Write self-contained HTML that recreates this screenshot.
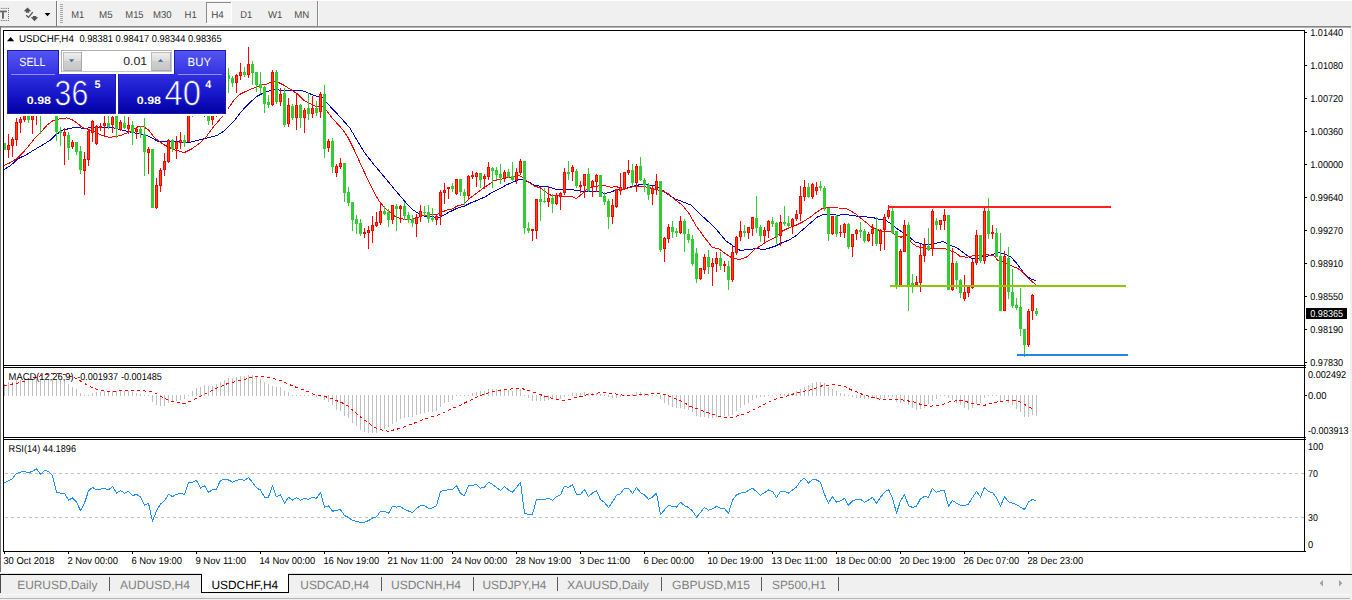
<!DOCTYPE html>
<html lang="en"><head><meta charset="utf-8"><title>USDCHF,H4</title>
<style>html,body{margin:0;padding:0;background:#f0f0f0;overflow:hidden}svg{display:block}text{font-family:"Liberation Sans",sans-serif;white-space:pre;text-rendering:geometricPrecision}</style>
</head><body>
<svg width="1352" height="600" viewBox="0 0 1352 600">
<defs>
<linearGradient id="gTab" x1="0" y1="0" x2="0" y2="1"><stop offset="0" stop-color="#5656f2"/><stop offset="1" stop-color="#3232e2"/></linearGradient>
<linearGradient id="gPrice" x1="0" y1="0" x2="0" y2="1"><stop offset="0" stop-color="#3030e0"/><stop offset="0.55" stop-color="#1414c8"/><stop offset="1" stop-color="#0000a0"/></linearGradient>
<linearGradient id="gBtn" x1="0" y1="0" x2="0" y2="1"><stop offset="0" stop-color="#f0f0f0"/><stop offset="0.45" stop-color="#dcdcdc"/><stop offset="0.5" stop-color="#cfcfcf"/><stop offset="1" stop-color="#c6c6c6"/></linearGradient>
<linearGradient id="gPriceU" gradientUnits="userSpaceOnUse" x1="0" y1="74" x2="0" y2="114"><stop offset="0" stop-color="#3030e0"/><stop offset="0.55" stop-color="#1414c8"/><stop offset="1" stop-color="#0000a0"/></linearGradient>
<clipPath id="clipMain"><rect x="4" y="31" width="1300" height="334"/></clipPath>
</defs>
<g shape-rendering="crispEdges">
<rect x="0" y="0" width="1352" height="600" fill="#f0f0f0"/>
<rect x="0" y="0" width="1352" height="1" fill="#ffffff"/>
<rect x="0" y="26" width="1351" height="1" fill="#868686"/>
<rect x="0" y="27" width="1351" height="1" fill="#b4b4b4"/>
<rect x="1" y="28" width="1349" height="545" fill="#ffffff"/>
<rect x="0" y="26" width="1" height="546" fill="#727272"/>
<rect x="0" y="573" width="1350" height="1" fill="#e3e3e3"/>
<rect x="0" y="574" width="1352" height="1" fill="#000000"/>
<rect x="0" y="594" width="1350" height="1" fill="#fbfbfb"/>
<rect x="0" y="598" width="1350" height="1" fill="#b4b4b4"/>
</g>
<g fill="#666666">
<rect x="0" y="10.6" width="6.8" height="1.7"/><rect x="2" y="12" width="1.9" height="6.7"/>
<rect x="0.8" y="7.9" width="1" height="1" fill="#707070"/><rect x="0.8" y="20" width="1" height="1" fill="#707070"/>
<rect x="2.6" y="7.9" width="1" height="1" fill="#707070"/><rect x="2.6" y="20" width="1" height="1" fill="#707070"/>
<rect x="4.4" y="7.9" width="1" height="1" fill="#707070"/><rect x="4.4" y="20" width="1" height="1" fill="#707070"/>
<rect x="6.2" y="7.9" width="1" height="1" fill="#707070"/><rect x="6.2" y="20" width="1" height="1" fill="#707070"/>
<rect x="8.0" y="7.9" width="1" height="1" fill="#707070"/><rect x="8.0" y="20" width="1" height="1" fill="#707070"/>
<rect x="8" y="9.9" width="1" height="1" fill="#707070"/>
<rect x="8" y="11.9" width="1" height="1" fill="#707070"/>
<rect x="8" y="14.0" width="1" height="1" fill="#707070"/>
<rect x="8" y="16.0" width="1" height="1" fill="#707070"/>
<rect x="8" y="18.0" width="1" height="1" fill="#707070"/>
</g>
<g>
</g>
<g fill="#555555">
<path d="M27.5 7.6 L31.3 11.3 L29.2 11.3 L29.2 12.8 L25.8 12.8 L25.8 11.3 L23.7 11.3 Z"/>
<path d="M34.5 21.2 L38.3 17.3 L36.2 17.3 L36.2 16 L32.8 16 L32.8 17.3 L30.7 17.3 Z"/>
<path d="M26.2 15.2 L28.5 17.4 L32.8 12.2" fill="none" stroke="#555555" stroke-width="1.3"/>
</g>
<path d="M44.6 13 L50.4 13 L47.5 16.2 Z" fill="#000"/>
<g shape-rendering="crispEdges">
<rect x="56" y="1" width="1" height="25" fill="#7a7a7a"/>
<rect x="57" y="1" width="1" height="25" fill="#fafafa"/>
<rect x="60" y="4" width="3" height="1" fill="#a8a8a8"/>
<rect x="60" y="6" width="3" height="1" fill="#a8a8a8"/>
<rect x="60" y="8" width="3" height="1" fill="#a8a8a8"/>
<rect x="60" y="10" width="3" height="1" fill="#a8a8a8"/>
<rect x="60" y="12" width="3" height="1" fill="#a8a8a8"/>
<rect x="60" y="14" width="3" height="1" fill="#a8a8a8"/>
<rect x="60" y="16" width="3" height="1" fill="#a8a8a8"/>
<rect x="60" y="18" width="3" height="1" fill="#a8a8a8"/>
<rect x="60" y="20" width="3" height="1" fill="#a8a8a8"/>
<rect x="60" y="22" width="3" height="1" fill="#a8a8a8"/>
<rect x="317" y="1" width="1" height="25" fill="#8a8a8a"/>
<rect x="318" y="1" width="1" height="25" fill="#fafafa"/>
<rect x="206" y="2" width="26" height="22" fill="#f7f7f7"/>
<rect x="206" y="2" width="26" height="1" fill="#8c8c8c"/>
<rect x="206" y="2" width="1" height="22" fill="#8c8c8c"/>
<rect x="231" y="2" width="1" height="22" fill="#ffffff"/>
<rect x="206" y="23" width="26" height="1" fill="#ffffff"/>
</g>
<text x="71.3" y="18" font-size="10" fill="#4a4a4a" textLength="13" lengthAdjust="spacingAndGlyphs">M1</text>
<text x="99" y="18" font-size="10" fill="#4a4a4a" textLength="13.6" lengthAdjust="spacingAndGlyphs">M5</text>
<text x="125.3" y="18" font-size="10" fill="#4a4a4a" textLength="18.3" lengthAdjust="spacingAndGlyphs">M15</text>
<text x="153" y="18" font-size="10" fill="#4a4a4a" textLength="18.6" lengthAdjust="spacingAndGlyphs">M30</text>
<text x="184.5" y="18" font-size="10" fill="#4a4a4a" textLength="12.2" lengthAdjust="spacingAndGlyphs">H1</text>
<text x="211.2" y="18" font-size="10" fill="#4a4a4a" textLength="12.6" lengthAdjust="spacingAndGlyphs">H4</text>
<text x="240.3" y="18" font-size="10" fill="#4a4a4a" textLength="12" lengthAdjust="spacingAndGlyphs">D1</text>
<text x="268" y="18" font-size="10" fill="#4a4a4a" textLength="14.4" lengthAdjust="spacingAndGlyphs">W1</text>
<text x="294.2" y="18" font-size="10" fill="#4a4a4a" textLength="15" lengthAdjust="spacingAndGlyphs">MN</text>
<g shape-rendering="crispEdges">
<rect x="3" y="30" width="1" height="522" fill="#000000"/>
<rect x="1304" y="30" width="1" height="522" fill="#000000"/>
<rect x="3" y="30" width="1302" height="1" fill="#000000"/>
<rect x="3" y="365" width="1303" height="1" fill="#000000"/>
<rect x="3" y="367" width="1303" height="1" fill="#000000"/>
<rect x="3" y="437" width="1303" height="1" fill="#000000"/>
<rect x="3" y="439" width="1303" height="1" fill="#000000"/>
<rect x="3" y="551" width="1303" height="1" fill="#000000"/>
<rect x="4" y="366" width="1300" height="1" fill="#ffffff"/>
<rect x="4" y="438" width="1300" height="1" fill="#ffffff"/>
<rect x="1305" y="32" width="2" height="1" fill="#000000"/>
<rect x="1305" y="65" width="2" height="1" fill="#000000"/>
<rect x="1305" y="98" width="2" height="1" fill="#000000"/>
<rect x="1305" y="131" width="2" height="1" fill="#000000"/>
<rect x="1305" y="164" width="2" height="1" fill="#000000"/>
<rect x="1305" y="197" width="2" height="1" fill="#000000"/>
<rect x="1305" y="230" width="2" height="1" fill="#000000"/>
<rect x="1305" y="263" width="2" height="1" fill="#000000"/>
<rect x="1305" y="296" width="2" height="1" fill="#000000"/>
<rect x="1305" y="329" width="2" height="1" fill="#000000"/>
<rect x="1305" y="362" width="2" height="1" fill="#000000"/>
<rect x="1305" y="395" width="2" height="1" fill="#000000"/>
<rect x="4" y="552" width="1" height="2" fill="#000000"/>
<rect x="68" y="552" width="1" height="2" fill="#000000"/>
<rect x="132" y="552" width="1" height="2" fill="#000000"/>
<rect x="196" y="552" width="1" height="2" fill="#000000"/>
<rect x="260" y="552" width="1" height="2" fill="#000000"/>
<rect x="324" y="552" width="1" height="2" fill="#000000"/>
<rect x="388" y="552" width="1" height="2" fill="#000000"/>
<rect x="452" y="552" width="1" height="2" fill="#000000"/>
<rect x="516" y="552" width="1" height="2" fill="#000000"/>
<rect x="580" y="552" width="1" height="2" fill="#000000"/>
<rect x="644" y="552" width="1" height="2" fill="#000000"/>
<rect x="708" y="552" width="1" height="2" fill="#000000"/>
<rect x="772" y="552" width="1" height="2" fill="#000000"/>
<rect x="836" y="552" width="1" height="2" fill="#000000"/>
<rect x="900" y="552" width="1" height="2" fill="#000000"/>
<rect x="964" y="552" width="1" height="2" fill="#000000"/>
<rect x="1028" y="552" width="1" height="2" fill="#000000"/>
</g>
<line x1="5" y1="473.5" x2="1304" y2="473.5" stroke="#c0c0c0" stroke-width="1" stroke-dasharray="3,3" shape-rendering="crispEdges"/>
<line x1="5" y1="517.5" x2="1304" y2="517.5" stroke="#c0c0c0" stroke-width="1" stroke-dasharray="3,3" shape-rendering="crispEdges"/>
<g clip-path="url(#clipMain)">
<polyline points="3.9,169.5 10.5,165.7 17.5,159.0 26.3,154.7 35.0,149.4 43.8,144.2 50.8,139.8 56.0,134.5 63.0,130.1 70.1,128.4 77.1,127.2 84.1,128.6 91.1,127.5 98.1,127.2 105.1,127.2 112.0,127.5 120.8,129.6 129.5,131.9 138.3,133.6 147.0,135.4 152.3,138.0 157.5,141.2 164.5,141.9 173.3,141.2 182.1,142.0 185.6,142.9 190.8,142.0 199.6,139.8 208.3,137.7 217.1,135.4 224.1,131.0 229.0,126.1 234.3,120.8 239.5,113.8 244.8,107.7 250.0,102.4 257.0,96.3 264.0,92.8 269.3,91.0 274.5,89.8 283.3,90.2 292.1,90.7 302.6,90.7 309.6,93.7 316.6,96.3 323.6,97.7 326.1,102.2 334.0,110.4 342.8,120.0 349.8,127.9 355.0,136.7 363.8,151.5 372.5,162.9 381.3,173.4 386.5,179.6 395.5,190.6 402.5,198.5 406.1,202.9 413.1,209.9 418.3,213.4 423.6,216.0 432.3,216.9 439.3,217.4 444.6,214.8 449.8,211.7 450.0,211.8 457.0,208.3 464.0,206.2 471.0,202.7 478.0,200.1 485.0,196.9 492.0,192.5 499.0,189.0 506.0,185.2 513.0,182.0 518.3,179.9 523.6,179.9 528.8,182.0 534.1,185.2 541.1,186.4 548.1,186.9 555.1,189.0 562.1,189.6 564.0,189.6 572.8,189.9 581.5,191.1 590.3,191.1 599.0,191.1 604.3,193.4 609.5,192.5 616.5,189.9 623.5,189.0 630.5,186.9 637.6,185.2 642.8,184.1 649.8,185.2 655.1,185.5 662.1,189.9 668.3,194.6 675.3,199.0 682.3,201.6 691.0,205.1 699.8,213.9 708.5,221.8 717.3,230.5 726.1,241.0 733.1,245.9 740.1,250.3 747.1,249.8 755.8,248.6 764.6,249.4 768.0,248.5 775.0,246.2 782.0,242.7 789.0,240.1 796.0,235.7 803.0,229.5 810.0,223.4 817.0,217.3 822.3,214.7 827.5,214.3 838.1,215.2 845.1,214.3 852.1,215.5 859.1,216.4 866.1,216.9 873.1,217.6 880.0,219.7 880.1,219.4 885.3,220.0 890.5,223.5 895.8,227.9 902.8,232.6 909.8,237.5 915.0,241.9 922.0,244.0 929.0,244.5 936.0,243.3 943.0,241.6 950.1,245.1 957.1,248.0 964.1,253.3 971.1,258.2 976.3,259.4 983.5,256.2 987.0,256.2 994.0,253.9 999.3,252.7 1004.5,253.9 1011.5,257.4 1016.8,263.6 1022.0,270.6 1027.3,276.7 1032.5,279.7 1036.0,280.7" fill="none" stroke="#0000cd" stroke-width="1" stroke-linejoin="round" shape-rendering="crispEdges"/>
<polyline points="3.9,165.7 10.5,162.5 17.5,158.2 22.8,152.9 28.0,146.8 35.0,138.0 40.3,132.8 47.3,124.9 52.5,121.0 59.5,118.8 66.5,117.9 71.8,119.6 77.1,123.1 82.3,127.5 87.6,129.3 94.6,131.9 101.6,135.4 108.6,137.1 112.0,137.1 120.8,135.4 129.5,131.9 138.3,126.6 143.5,126.6 148.8,130.1 154.0,137.1 159.3,141.5 164.5,145.0 173.3,149.4 182.1,152.0 185.6,152.0 190.8,149.4 199.6,143.3 206.6,136.3 213.6,126.6 222.3,116.7 228.1,108.6 234.3,99.8 239.5,94.5 248.3,90.2 257.0,86.7 262.3,84.9 267.5,84.0 271.9,81.4 278.0,82.3 283.3,84.9 290.3,89.3 297.3,93.7 304.3,100.7 311.3,104.2 316.6,106.8 321.8,105.9 326.1,110.4 327.1,111.2 332.3,118.3 337.5,123.9 342.8,129.7 348.0,137.5 353.3,148.0 358.5,159.4 363.8,170.8 364.0,171.4 369.3,182.8 374.5,193.3 379.8,202.0 385.0,208.2 390.3,212.5 395.5,216.9 400.8,218.7 406.1,219.5 411.3,219.5 416.6,217.8 421.8,216.0 428.8,214.6 437.6,214.3 442.8,211.7 448.1,209.6 450.0,210.1 457.0,206.2 464.0,203.9 469.3,198.7 476.3,193.4 483.3,188.2 488.5,184.7 493.8,180.6 500.8,179.4 506.0,177.7 513.0,177.1 518.3,175.0 523.6,177.7 528.8,182.4 534.1,185.9 541.1,188.2 546.3,192.5 551.6,195.7 558.6,195.7 562.1,196.9 564.0,196.9 571.0,196.0 576.3,198.7 581.5,194.3 586.8,189.0 593.8,186.4 599.0,185.9 606.0,185.9 611.3,187.3 616.5,186.4 621.8,189.9 627.0,188.2 634.1,186.4 641.1,186.4 648.1,187.3 655.1,189.4 662.1,190.8 668.3,193.8 675.3,199.9 682.3,205.1 689.3,213.9 696.3,226.2 703.3,235.8 712.0,247.2 719.0,248.9 726.1,254.2 733.1,258.6 740.1,259.4 747.1,256.8 754.1,249.8 761.1,245.4 768.0,240.9 775.0,237.4 782.0,231.3 789.0,227.8 796.0,225.2 803.0,221.7 810.0,217.3 817.0,212.0 822.3,208.5 827.5,207.7 832.8,207.1 838.1,208.0 845.1,208.2 850.3,210.6 855.6,213.8 860.8,218.2 866.1,222.5 871.3,226.9 876.6,229.5 881.8,230.9 885.3,231.9 890.5,231.9 895.8,234.9 901.0,237.2 906.3,234.9 911.5,242.8 916.8,246.3 922.0,247.7 929.0,248.9 936.0,248.0 943.0,248.0 950.1,250.7 955.3,252.4 960.6,256.8 967.6,257.1 972.8,255.9 979.8,255.9 984.6,254.8 987.0,254.8 994.0,255.7 997.5,260.1 1002.8,261.8 1009.8,265.3 1016.8,267.9 1022.0,271.4 1027.3,277.6 1032.5,281.9 1036.0,284.9" fill="none" stroke="#ff0000" stroke-width="1" stroke-linejoin="round" shape-rendering="crispEdges"/>
<g shape-rendering="crispEdges">
<rect x="4" y="143" width="1" height="7" fill="#32cd32"/>
<rect x="3" y="143" width="3" height="7" fill="#32cd32"/>
<rect x="8" y="134" width="1" height="24" fill="#ff0000"/>
<rect x="7" y="145" width="3" height="5" fill="#ff0000"/>
<rect x="8" y="146" width="1" height="3" fill="#ff4500"/>
<rect x="12" y="137" width="1" height="20" fill="#ff0000"/>
<rect x="11" y="139" width="3" height="7" fill="#ff0000"/>
<rect x="12" y="140" width="1" height="5" fill="#ff4500"/>
<rect x="16" y="118" width="1" height="28" fill="#ff0000"/>
<rect x="15" y="122" width="3" height="18" fill="#ff0000"/>
<rect x="16" y="123" width="1" height="16" fill="#ff4500"/>
<rect x="20" y="117" width="1" height="16" fill="#ff0000"/>
<rect x="19" y="119" width="3" height="4" fill="#ff0000"/>
<rect x="20" y="120" width="1" height="2" fill="#ff4500"/>
<rect x="24" y="105" width="1" height="17" fill="#ff0000"/>
<rect x="23" y="108" width="3" height="12" fill="#ff0000"/>
<rect x="24" y="109" width="1" height="10" fill="#ff4500"/>
<rect x="28" y="100" width="1" height="23" fill="#32cd32"/>
<rect x="27" y="104" width="3" height="16" fill="#32cd32"/>
<rect x="32" y="100" width="1" height="34" fill="#ff0000"/>
<rect x="31" y="104" width="3" height="16" fill="#ff0000"/>
<rect x="32" y="105" width="1" height="14" fill="#ff4500"/>
<rect x="36" y="95" width="1" height="30" fill="#ff0000"/>
<rect x="35" y="98" width="3" height="12" fill="#ff0000"/>
<rect x="36" y="99" width="1" height="10" fill="#ff4500"/>
<rect x="40" y="90" width="1" height="44" fill="#32cd32"/>
<rect x="39" y="95" width="3" height="13" fill="#32cd32"/>
<rect x="44" y="85" width="1" height="20" fill="#32cd32"/>
<rect x="43" y="88" width="3" height="12" fill="#32cd32"/>
<rect x="48" y="80" width="1" height="20" fill="#ff0000"/>
<rect x="47" y="85" width="3" height="10" fill="#ff0000"/>
<rect x="48" y="86" width="1" height="8" fill="#ff4500"/>
<rect x="52" y="85" width="1" height="25" fill="#32cd32"/>
<rect x="51" y="90" width="3" height="15" fill="#32cd32"/>
<rect x="56" y="95" width="1" height="46" fill="#32cd32"/>
<rect x="55" y="100" width="3" height="32" fill="#32cd32"/>
<rect x="60" y="127" width="1" height="19" fill="#32cd32"/>
<rect x="59" y="131" width="3" height="2" fill="#32cd32"/>
<rect x="64" y="128" width="1" height="37" fill="#ff0000"/>
<rect x="63" y="132" width="3" height="4" fill="#ff0000"/>
<rect x="64" y="133" width="1" height="2" fill="#ff4500"/>
<rect x="68" y="132" width="1" height="28" fill="#32cd32"/>
<rect x="67" y="135" width="3" height="13" fill="#32cd32"/>
<rect x="72" y="140" width="1" height="9" fill="#ff0000"/>
<rect x="71" y="142" width="3" height="5" fill="#ff0000"/>
<rect x="72" y="143" width="1" height="3" fill="#ff4500"/>
<rect x="76" y="142" width="1" height="13" fill="#32cd32"/>
<rect x="75" y="142" width="3" height="10" fill="#32cd32"/>
<rect x="80" y="146" width="1" height="28" fill="#32cd32"/>
<rect x="79" y="151" width="3" height="19" fill="#32cd32"/>
<rect x="84" y="152" width="1" height="43" fill="#ff0000"/>
<rect x="83" y="159" width="3" height="12" fill="#ff0000"/>
<rect x="84" y="160" width="1" height="10" fill="#ff4500"/>
<rect x="88" y="129" width="1" height="37" fill="#ff0000"/>
<rect x="87" y="131" width="3" height="29" fill="#ff0000"/>
<rect x="88" y="132" width="1" height="27" fill="#ff4500"/>
<rect x="92" y="120" width="1" height="22" fill="#ff0000"/>
<rect x="91" y="121" width="3" height="12" fill="#ff0000"/>
<rect x="92" y="122" width="1" height="10" fill="#ff4500"/>
<rect x="96" y="125" width="1" height="20" fill="#ff0000"/>
<rect x="95" y="126" width="3" height="18" fill="#ff0000"/>
<rect x="96" y="127" width="1" height="16" fill="#ff4500"/>
<rect x="100" y="123" width="1" height="8" fill="#ff0000"/>
<rect x="99" y="126" width="3" height="2" fill="#ff0000"/>
<rect x="104" y="116" width="1" height="20" fill="#ff0000"/>
<rect x="103" y="123" width="3" height="3" fill="#ff0000"/>
<rect x="104" y="124" width="1" height="1" fill="#ff4500"/>
<rect x="108" y="116" width="1" height="13" fill="#32cd32"/>
<rect x="107" y="123" width="3" height="4" fill="#32cd32"/>
<rect x="112" y="112" width="1" height="21" fill="#ff0000"/>
<rect x="111" y="117" width="3" height="8" fill="#ff0000"/>
<rect x="112" y="118" width="1" height="6" fill="#ff4500"/>
<rect x="116" y="105" width="1" height="33" fill="#32cd32"/>
<rect x="115" y="108" width="3" height="21" fill="#32cd32"/>
<rect x="120" y="120" width="1" height="11" fill="#ff0000"/>
<rect x="119" y="122" width="3" height="8" fill="#ff0000"/>
<rect x="120" y="123" width="1" height="6" fill="#ff4500"/>
<rect x="124" y="116" width="1" height="13" fill="#32cd32"/>
<rect x="123" y="123" width="3" height="5" fill="#32cd32"/>
<rect x="128" y="117" width="1" height="17" fill="#ff0000"/>
<rect x="127" y="125" width="3" height="4" fill="#ff0000"/>
<rect x="128" y="126" width="1" height="2" fill="#ff4500"/>
<rect x="132" y="121" width="1" height="24" fill="#32cd32"/>
<rect x="131" y="125" width="3" height="8" fill="#32cd32"/>
<rect x="136" y="128" width="1" height="11" fill="#ff0000"/>
<rect x="135" y="129" width="3" height="3" fill="#ff0000"/>
<rect x="136" y="130" width="1" height="1" fill="#ff4500"/>
<rect x="140" y="126" width="1" height="12" fill="#32cd32"/>
<rect x="139" y="129" width="3" height="5" fill="#32cd32"/>
<rect x="144" y="118" width="1" height="58" fill="#32cd32"/>
<rect x="143" y="134" width="3" height="18" fill="#32cd32"/>
<rect x="148" y="147" width="1" height="27" fill="#ff0000"/>
<rect x="147" y="149" width="3" height="4" fill="#ff0000"/>
<rect x="148" y="150" width="1" height="2" fill="#ff4500"/>
<rect x="152" y="149" width="1" height="59" fill="#32cd32"/>
<rect x="151" y="149" width="3" height="59" fill="#32cd32"/>
<rect x="156" y="178" width="1" height="31" fill="#ff0000"/>
<rect x="155" y="185" width="3" height="23" fill="#ff0000"/>
<rect x="156" y="186" width="1" height="21" fill="#ff4500"/>
<rect x="160" y="168" width="1" height="24" fill="#ff0000"/>
<rect x="159" y="170" width="3" height="16" fill="#ff0000"/>
<rect x="160" y="171" width="1" height="14" fill="#ff4500"/>
<rect x="164" y="153" width="1" height="23" fill="#ff0000"/>
<rect x="163" y="161" width="3" height="9" fill="#ff0000"/>
<rect x="164" y="162" width="1" height="7" fill="#ff4500"/>
<rect x="168" y="139" width="1" height="24" fill="#ff0000"/>
<rect x="167" y="140" width="3" height="22" fill="#ff0000"/>
<rect x="168" y="141" width="1" height="20" fill="#ff4500"/>
<rect x="172" y="139" width="1" height="13" fill="#32cd32"/>
<rect x="171" y="140" width="3" height="9" fill="#32cd32"/>
<rect x="176" y="136" width="1" height="23" fill="#ff0000"/>
<rect x="175" y="142" width="3" height="7" fill="#ff0000"/>
<rect x="176" y="143" width="1" height="5" fill="#ff4500"/>
<rect x="180" y="132" width="1" height="17" fill="#ff0000"/>
<rect x="179" y="140" width="3" height="3" fill="#ff0000"/>
<rect x="180" y="141" width="1" height="1" fill="#ff4500"/>
<rect x="184" y="135" width="1" height="12" fill="#32cd32"/>
<rect x="183" y="140" width="3" height="3" fill="#32cd32"/>
<rect x="188" y="100" width="1" height="42" fill="#ff0000"/>
<rect x="187" y="105" width="3" height="37" fill="#ff0000"/>
<rect x="188" y="106" width="1" height="35" fill="#ff4500"/>
<rect x="192" y="100" width="1" height="17" fill="#32cd32"/>
<rect x="191" y="102" width="3" height="10" fill="#32cd32"/>
<rect x="196" y="95" width="1" height="15" fill="#32cd32"/>
<rect x="195" y="98" width="3" height="10" fill="#32cd32"/>
<rect x="200" y="92" width="1" height="16" fill="#ff0000"/>
<rect x="199" y="95" width="3" height="9" fill="#ff0000"/>
<rect x="200" y="96" width="1" height="7" fill="#ff4500"/>
<rect x="204" y="94" width="1" height="23" fill="#ff0000"/>
<rect x="203" y="98" width="3" height="10" fill="#ff0000"/>
<rect x="204" y="99" width="1" height="8" fill="#ff4500"/>
<rect x="208" y="100" width="1" height="25" fill="#32cd32"/>
<rect x="207" y="104" width="3" height="17" fill="#32cd32"/>
<rect x="212" y="100" width="1" height="25" fill="#ff0000"/>
<rect x="211" y="104" width="3" height="16" fill="#ff0000"/>
<rect x="212" y="105" width="1" height="14" fill="#ff4500"/>
<rect x="216" y="96" width="1" height="21" fill="#ff0000"/>
<rect x="215" y="100" width="3" height="12" fill="#ff0000"/>
<rect x="216" y="101" width="1" height="10" fill="#ff4500"/>
<rect x="220" y="85" width="1" height="20" fill="#32cd32"/>
<rect x="219" y="90" width="3" height="10" fill="#32cd32"/>
<rect x="224" y="75" width="1" height="25" fill="#32cd32"/>
<rect x="223" y="80" width="3" height="15" fill="#32cd32"/>
<rect x="228" y="68" width="1" height="25" fill="#32cd32"/>
<rect x="227" y="75" width="3" height="4" fill="#32cd32"/>
<rect x="232" y="76" width="1" height="11" fill="#32cd32"/>
<rect x="231" y="78" width="3" height="5" fill="#32cd32"/>
<rect x="236" y="74" width="1" height="19" fill="#ff0000"/>
<rect x="235" y="75" width="3" height="8" fill="#ff0000"/>
<rect x="236" y="76" width="1" height="6" fill="#ff4500"/>
<rect x="240" y="63" width="1" height="17" fill="#ff0000"/>
<rect x="239" y="72" width="3" height="4" fill="#ff0000"/>
<rect x="240" y="73" width="1" height="2" fill="#ff4500"/>
<rect x="244" y="67" width="1" height="10" fill="#32cd32"/>
<rect x="243" y="72" width="3" height="3" fill="#32cd32"/>
<rect x="248" y="47" width="1" height="31" fill="#ff0000"/>
<rect x="247" y="64" width="3" height="11" fill="#ff0000"/>
<rect x="248" y="65" width="1" height="9" fill="#ff4500"/>
<rect x="252" y="61" width="1" height="24" fill="#32cd32"/>
<rect x="251" y="64" width="3" height="9" fill="#32cd32"/>
<rect x="256" y="72" width="1" height="20" fill="#32cd32"/>
<rect x="255" y="72" width="3" height="13" fill="#32cd32"/>
<rect x="260" y="72" width="1" height="22" fill="#32cd32"/>
<rect x="259" y="84" width="3" height="4" fill="#32cd32"/>
<rect x="264" y="86" width="1" height="27" fill="#32cd32"/>
<rect x="263" y="87" width="3" height="17" fill="#32cd32"/>
<rect x="268" y="95" width="1" height="13" fill="#32cd32"/>
<rect x="267" y="102" width="3" height="3" fill="#32cd32"/>
<rect x="272" y="70" width="1" height="36" fill="#ff0000"/>
<rect x="271" y="72" width="3" height="33" fill="#ff0000"/>
<rect x="272" y="73" width="1" height="31" fill="#ff4500"/>
<rect x="276" y="70" width="1" height="34" fill="#32cd32"/>
<rect x="275" y="72" width="3" height="30" fill="#32cd32"/>
<rect x="280" y="88" width="1" height="18" fill="#ff0000"/>
<rect x="279" y="94" width="3" height="8" fill="#ff0000"/>
<rect x="280" y="95" width="1" height="6" fill="#ff4500"/>
<rect x="284" y="88" width="1" height="39" fill="#32cd32"/>
<rect x="283" y="93" width="3" height="32" fill="#32cd32"/>
<rect x="288" y="98" width="1" height="29" fill="#ff0000"/>
<rect x="287" y="105" width="3" height="19" fill="#ff0000"/>
<rect x="288" y="106" width="1" height="17" fill="#ff4500"/>
<rect x="292" y="104" width="1" height="16" fill="#32cd32"/>
<rect x="291" y="106" width="3" height="12" fill="#32cd32"/>
<rect x="296" y="93" width="1" height="37" fill="#ff0000"/>
<rect x="295" y="105" width="3" height="13" fill="#ff0000"/>
<rect x="296" y="106" width="1" height="11" fill="#ff4500"/>
<rect x="300" y="104" width="1" height="24" fill="#32cd32"/>
<rect x="299" y="105" width="3" height="13" fill="#32cd32"/>
<rect x="304" y="108" width="1" height="25" fill="#ff0000"/>
<rect x="303" y="110" width="3" height="8" fill="#ff0000"/>
<rect x="304" y="111" width="1" height="6" fill="#ff4500"/>
<rect x="308" y="93" width="1" height="27" fill="#32cd32"/>
<rect x="307" y="108" width="3" height="6" fill="#32cd32"/>
<rect x="312" y="96" width="1" height="22" fill="#ff0000"/>
<rect x="311" y="108" width="3" height="6" fill="#ff0000"/>
<rect x="312" y="109" width="1" height="4" fill="#ff4500"/>
<rect x="316" y="101" width="1" height="15" fill="#32cd32"/>
<rect x="315" y="108" width="3" height="5" fill="#32cd32"/>
<rect x="320" y="92" width="1" height="26" fill="#ff0000"/>
<rect x="319" y="94" width="3" height="18" fill="#ff0000"/>
<rect x="320" y="95" width="1" height="16" fill="#ff4500"/>
<rect x="324" y="85" width="1" height="73" fill="#32cd32"/>
<rect x="323" y="94" width="3" height="55" fill="#32cd32"/>
<rect x="328" y="139" width="1" height="13" fill="#ff0000"/>
<rect x="327" y="141" width="3" height="7" fill="#ff0000"/>
<rect x="328" y="142" width="1" height="5" fill="#ff4500"/>
<rect x="332" y="138" width="1" height="35" fill="#32cd32"/>
<rect x="331" y="141" width="3" height="26" fill="#32cd32"/>
<rect x="336" y="164" width="1" height="13" fill="#ff0000"/>
<rect x="335" y="166" width="3" height="7" fill="#ff0000"/>
<rect x="336" y="167" width="1" height="5" fill="#ff4500"/>
<rect x="340" y="158" width="1" height="11" fill="#ff0000"/>
<rect x="339" y="163" width="3" height="4" fill="#ff0000"/>
<rect x="340" y="164" width="1" height="2" fill="#ff4500"/>
<rect x="344" y="163" width="1" height="39" fill="#32cd32"/>
<rect x="343" y="163" width="3" height="30" fill="#32cd32"/>
<rect x="348" y="187" width="1" height="19" fill="#32cd32"/>
<rect x="347" y="192" width="3" height="11" fill="#32cd32"/>
<rect x="352" y="202" width="1" height="29" fill="#32cd32"/>
<rect x="351" y="202" width="3" height="18" fill="#32cd32"/>
<rect x="356" y="215" width="1" height="19" fill="#32cd32"/>
<rect x="355" y="219" width="3" height="5" fill="#32cd32"/>
<rect x="360" y="219" width="1" height="17" fill="#32cd32"/>
<rect x="359" y="223" width="3" height="11" fill="#32cd32"/>
<rect x="364" y="228" width="1" height="10" fill="#ff0000"/>
<rect x="363" y="232" width="3" height="2" fill="#ff0000"/>
<rect x="368" y="226" width="1" height="23" fill="#ff0000"/>
<rect x="367" y="230" width="3" height="3" fill="#ff0000"/>
<rect x="368" y="231" width="1" height="1" fill="#ff4500"/>
<rect x="372" y="216" width="1" height="27" fill="#ff0000"/>
<rect x="371" y="225" width="3" height="6" fill="#ff0000"/>
<rect x="372" y="226" width="1" height="4" fill="#ff4500"/>
<rect x="376" y="212" width="1" height="15" fill="#ff0000"/>
<rect x="375" y="222" width="3" height="4" fill="#ff0000"/>
<rect x="376" y="223" width="1" height="2" fill="#ff4500"/>
<rect x="380" y="202" width="1" height="23" fill="#ff0000"/>
<rect x="379" y="211" width="3" height="12" fill="#ff0000"/>
<rect x="380" y="212" width="1" height="10" fill="#ff4500"/>
<rect x="384" y="206" width="1" height="9" fill="#32cd32"/>
<rect x="383" y="211" width="3" height="3" fill="#32cd32"/>
<rect x="388" y="209" width="1" height="18" fill="#32cd32"/>
<rect x="387" y="212" width="3" height="8" fill="#32cd32"/>
<rect x="392" y="205" width="1" height="19" fill="#ff0000"/>
<rect x="391" y="205" width="3" height="15" fill="#ff0000"/>
<rect x="392" y="206" width="1" height="13" fill="#ff4500"/>
<rect x="396" y="204" width="1" height="27" fill="#32cd32"/>
<rect x="395" y="206" width="3" height="3" fill="#32cd32"/>
<rect x="400" y="205" width="1" height="18" fill="#ff0000"/>
<rect x="399" y="206" width="3" height="3" fill="#ff0000"/>
<rect x="400" y="207" width="1" height="1" fill="#ff4500"/>
<rect x="404" y="202" width="1" height="18" fill="#32cd32"/>
<rect x="403" y="206" width="3" height="10" fill="#32cd32"/>
<rect x="408" y="212" width="1" height="11" fill="#32cd32"/>
<rect x="407" y="215" width="3" height="5" fill="#32cd32"/>
<rect x="412" y="215" width="1" height="12" fill="#32cd32"/>
<rect x="411" y="219" width="3" height="4" fill="#32cd32"/>
<rect x="416" y="214" width="1" height="23" fill="#ff0000"/>
<rect x="415" y="217" width="3" height="7" fill="#ff0000"/>
<rect x="416" y="218" width="1" height="5" fill="#ff4500"/>
<rect x="420" y="205" width="1" height="17" fill="#ff0000"/>
<rect x="419" y="211" width="3" height="6" fill="#ff0000"/>
<rect x="420" y="212" width="1" height="4" fill="#ff4500"/>
<rect x="424" y="206" width="1" height="10" fill="#32cd32"/>
<rect x="423" y="212" width="3" height="1" fill="#32cd32"/>
<rect x="428" y="205" width="1" height="18" fill="#32cd32"/>
<rect x="427" y="212" width="3" height="7" fill="#32cd32"/>
<rect x="432" y="208" width="1" height="14" fill="#32cd32"/>
<rect x="431" y="218" width="3" height="2" fill="#32cd32"/>
<rect x="436" y="214" width="1" height="11" fill="#ff0000"/>
<rect x="435" y="216" width="3" height="4" fill="#ff0000"/>
<rect x="436" y="217" width="1" height="2" fill="#ff4500"/>
<rect x="440" y="190" width="1" height="35" fill="#ff0000"/>
<rect x="439" y="192" width="3" height="24" fill="#ff0000"/>
<rect x="440" y="193" width="1" height="22" fill="#ff4500"/>
<rect x="444" y="183" width="1" height="21" fill="#ff0000"/>
<rect x="443" y="190" width="3" height="3" fill="#ff0000"/>
<rect x="444" y="191" width="1" height="1" fill="#ff4500"/>
<rect x="448" y="187" width="1" height="12" fill="#ff0000"/>
<rect x="447" y="187" width="3" height="2" fill="#ff0000"/>
<rect x="452" y="183" width="1" height="9" fill="#32cd32"/>
<rect x="451" y="186" width="3" height="3" fill="#32cd32"/>
<rect x="456" y="179" width="1" height="16" fill="#ff0000"/>
<rect x="455" y="179" width="3" height="15" fill="#ff0000"/>
<rect x="456" y="180" width="1" height="13" fill="#ff4500"/>
<rect x="460" y="179" width="1" height="17" fill="#32cd32"/>
<rect x="459" y="179" width="3" height="13" fill="#32cd32"/>
<rect x="464" y="189" width="1" height="17" fill="#32cd32"/>
<rect x="463" y="192" width="3" height="4" fill="#32cd32"/>
<rect x="468" y="175" width="1" height="24" fill="#ff0000"/>
<rect x="467" y="176" width="3" height="20" fill="#ff0000"/>
<rect x="468" y="177" width="1" height="18" fill="#ff4500"/>
<rect x="472" y="171" width="1" height="8" fill="#ff0000"/>
<rect x="471" y="175" width="3" height="2" fill="#ff0000"/>
<rect x="476" y="172" width="1" height="15" fill="#ff0000"/>
<rect x="475" y="173" width="3" height="4" fill="#ff0000"/>
<rect x="476" y="174" width="1" height="2" fill="#ff4500"/>
<rect x="480" y="173" width="1" height="15" fill="#32cd32"/>
<rect x="479" y="173" width="3" height="7" fill="#32cd32"/>
<rect x="484" y="174" width="1" height="15" fill="#ff0000"/>
<rect x="483" y="176" width="3" height="3" fill="#ff0000"/>
<rect x="484" y="177" width="1" height="1" fill="#ff4500"/>
<rect x="488" y="162" width="1" height="18" fill="#ff0000"/>
<rect x="487" y="167" width="3" height="10" fill="#ff0000"/>
<rect x="488" y="168" width="1" height="8" fill="#ff4500"/>
<rect x="492" y="167" width="1" height="21" fill="#32cd32"/>
<rect x="491" y="168" width="3" height="3" fill="#32cd32"/>
<rect x="496" y="167" width="1" height="13" fill="#32cd32"/>
<rect x="495" y="170" width="3" height="5" fill="#32cd32"/>
<rect x="500" y="164" width="1" height="20" fill="#32cd32"/>
<rect x="499" y="174" width="3" height="4" fill="#32cd32"/>
<rect x="504" y="170" width="1" height="12" fill="#ff0000"/>
<rect x="503" y="172" width="3" height="7" fill="#ff0000"/>
<rect x="504" y="173" width="1" height="5" fill="#ff4500"/>
<rect x="508" y="169" width="1" height="9" fill="#32cd32"/>
<rect x="507" y="172" width="3" height="5" fill="#32cd32"/>
<rect x="512" y="162" width="1" height="19" fill="#32cd32"/>
<rect x="511" y="176" width="3" height="4" fill="#32cd32"/>
<rect x="516" y="168" width="1" height="16" fill="#ff0000"/>
<rect x="515" y="172" width="3" height="8" fill="#ff0000"/>
<rect x="516" y="173" width="1" height="6" fill="#ff4500"/>
<rect x="520" y="159" width="1" height="16" fill="#ff0000"/>
<rect x="519" y="161" width="3" height="12" fill="#ff0000"/>
<rect x="520" y="162" width="1" height="10" fill="#ff4500"/>
<rect x="524" y="161" width="1" height="73" fill="#32cd32"/>
<rect x="523" y="161" width="3" height="67" fill="#32cd32"/>
<rect x="528" y="222" width="1" height="11" fill="#32cd32"/>
<rect x="527" y="228" width="3" height="3" fill="#32cd32"/>
<rect x="532" y="229" width="1" height="12" fill="#ff0000"/>
<rect x="531" y="229" width="3" height="2" fill="#ff0000"/>
<rect x="536" y="199" width="1" height="40" fill="#ff0000"/>
<rect x="535" y="199" width="3" height="32" fill="#ff0000"/>
<rect x="536" y="200" width="1" height="30" fill="#ff4500"/>
<rect x="540" y="189" width="1" height="32" fill="#32cd32"/>
<rect x="539" y="199" width="3" height="3" fill="#32cd32"/>
<rect x="544" y="188" width="1" height="15" fill="#32cd32"/>
<rect x="543" y="201" width="3" height="1" fill="#32cd32"/>
<rect x="548" y="186" width="1" height="21" fill="#ff0000"/>
<rect x="547" y="198" width="3" height="4" fill="#ff0000"/>
<rect x="548" y="199" width="1" height="2" fill="#ff4500"/>
<rect x="552" y="194" width="1" height="19" fill="#32cd32"/>
<rect x="551" y="198" width="3" height="6" fill="#32cd32"/>
<rect x="556" y="193" width="1" height="12" fill="#ff0000"/>
<rect x="555" y="195" width="3" height="9" fill="#ff0000"/>
<rect x="556" y="196" width="1" height="7" fill="#ff4500"/>
<rect x="560" y="192" width="1" height="18" fill="#ff0000"/>
<rect x="559" y="193" width="3" height="3" fill="#ff0000"/>
<rect x="560" y="194" width="1" height="1" fill="#ff4500"/>
<rect x="564" y="168" width="1" height="27" fill="#ff0000"/>
<rect x="563" y="172" width="3" height="21" fill="#ff0000"/>
<rect x="564" y="173" width="1" height="19" fill="#ff4500"/>
<rect x="568" y="161" width="1" height="19" fill="#32cd32"/>
<rect x="567" y="172" width="3" height="2" fill="#32cd32"/>
<rect x="572" y="165" width="1" height="16" fill="#ff0000"/>
<rect x="571" y="167" width="3" height="5" fill="#ff0000"/>
<rect x="572" y="168" width="1" height="3" fill="#ff4500"/>
<rect x="576" y="169" width="1" height="19" fill="#32cd32"/>
<rect x="575" y="171" width="3" height="15" fill="#32cd32"/>
<rect x="580" y="181" width="1" height="12" fill="#ff0000"/>
<rect x="579" y="185" width="3" height="2" fill="#ff0000"/>
<rect x="584" y="174" width="1" height="24" fill="#ff0000"/>
<rect x="583" y="174" width="3" height="12" fill="#ff0000"/>
<rect x="584" y="175" width="1" height="10" fill="#ff4500"/>
<rect x="588" y="168" width="1" height="24" fill="#32cd32"/>
<rect x="587" y="174" width="3" height="17" fill="#32cd32"/>
<rect x="592" y="180" width="1" height="17" fill="#ff0000"/>
<rect x="591" y="181" width="3" height="6" fill="#ff0000"/>
<rect x="592" y="182" width="1" height="4" fill="#ff4500"/>
<rect x="596" y="174" width="1" height="18" fill="#ff0000"/>
<rect x="595" y="175" width="3" height="7" fill="#ff0000"/>
<rect x="596" y="176" width="1" height="5" fill="#ff4500"/>
<rect x="600" y="175" width="1" height="22" fill="#32cd32"/>
<rect x="599" y="175" width="3" height="22" fill="#32cd32"/>
<rect x="604" y="192" width="1" height="13" fill="#32cd32"/>
<rect x="603" y="196" width="3" height="6" fill="#32cd32"/>
<rect x="608" y="199" width="1" height="30" fill="#32cd32"/>
<rect x="607" y="201" width="3" height="16" fill="#32cd32"/>
<rect x="612" y="199" width="1" height="25" fill="#ff0000"/>
<rect x="611" y="205" width="3" height="12" fill="#ff0000"/>
<rect x="612" y="206" width="1" height="10" fill="#ff4500"/>
<rect x="616" y="189" width="1" height="19" fill="#ff0000"/>
<rect x="615" y="189" width="3" height="18" fill="#ff0000"/>
<rect x="616" y="190" width="1" height="16" fill="#ff4500"/>
<rect x="620" y="173" width="1" height="22" fill="#ff0000"/>
<rect x="619" y="187" width="3" height="4" fill="#ff0000"/>
<rect x="620" y="188" width="1" height="2" fill="#ff4500"/>
<rect x="624" y="172" width="1" height="17" fill="#ff0000"/>
<rect x="623" y="172" width="3" height="17" fill="#ff0000"/>
<rect x="624" y="173" width="1" height="15" fill="#ff4500"/>
<rect x="628" y="160" width="1" height="15" fill="#ff0000"/>
<rect x="627" y="170" width="3" height="3" fill="#ff0000"/>
<rect x="628" y="171" width="1" height="1" fill="#ff4500"/>
<rect x="632" y="164" width="1" height="22" fill="#32cd32"/>
<rect x="631" y="170" width="3" height="13" fill="#32cd32"/>
<rect x="636" y="164" width="1" height="28" fill="#ff0000"/>
<rect x="635" y="166" width="3" height="17" fill="#ff0000"/>
<rect x="636" y="167" width="1" height="15" fill="#ff4500"/>
<rect x="640" y="157" width="1" height="24" fill="#32cd32"/>
<rect x="639" y="166" width="3" height="14" fill="#32cd32"/>
<rect x="644" y="178" width="1" height="14" fill="#32cd32"/>
<rect x="643" y="180" width="3" height="5" fill="#32cd32"/>
<rect x="648" y="183" width="1" height="17" fill="#32cd32"/>
<rect x="647" y="185" width="3" height="10" fill="#32cd32"/>
<rect x="652" y="186" width="1" height="19" fill="#ff0000"/>
<rect x="651" y="188" width="3" height="6" fill="#ff0000"/>
<rect x="652" y="189" width="1" height="4" fill="#ff4500"/>
<rect x="656" y="174" width="1" height="21" fill="#ff0000"/>
<rect x="655" y="181" width="3" height="8" fill="#ff0000"/>
<rect x="656" y="182" width="1" height="6" fill="#ff4500"/>
<rect x="660" y="181" width="1" height="71" fill="#32cd32"/>
<rect x="659" y="181" width="3" height="69" fill="#32cd32"/>
<rect x="664" y="237" width="1" height="25" fill="#ff0000"/>
<rect x="663" y="238" width="3" height="11" fill="#ff0000"/>
<rect x="664" y="239" width="1" height="9" fill="#ff4500"/>
<rect x="668" y="224" width="1" height="19" fill="#ff0000"/>
<rect x="667" y="227" width="3" height="12" fill="#ff0000"/>
<rect x="668" y="228" width="1" height="10" fill="#ff4500"/>
<rect x="672" y="221" width="1" height="17" fill="#32cd32"/>
<rect x="671" y="227" width="3" height="5" fill="#32cd32"/>
<rect x="676" y="228" width="1" height="9" fill="#32cd32"/>
<rect x="675" y="231" width="3" height="2" fill="#32cd32"/>
<rect x="680" y="216" width="1" height="18" fill="#ff0000"/>
<rect x="679" y="221" width="3" height="12" fill="#ff0000"/>
<rect x="680" y="222" width="1" height="10" fill="#ff4500"/>
<rect x="684" y="219" width="1" height="33" fill="#32cd32"/>
<rect x="683" y="221" width="3" height="13" fill="#32cd32"/>
<rect x="688" y="229" width="1" height="14" fill="#32cd32"/>
<rect x="687" y="234" width="3" height="6" fill="#32cd32"/>
<rect x="692" y="235" width="1" height="31" fill="#32cd32"/>
<rect x="691" y="239" width="3" height="25" fill="#32cd32"/>
<rect x="696" y="248" width="1" height="35" fill="#32cd32"/>
<rect x="695" y="253" width="3" height="26" fill="#32cd32"/>
<rect x="700" y="268" width="1" height="12" fill="#ff0000"/>
<rect x="699" y="268" width="3" height="11" fill="#ff0000"/>
<rect x="700" y="269" width="1" height="9" fill="#ff4500"/>
<rect x="704" y="254" width="1" height="20" fill="#ff0000"/>
<rect x="703" y="257" width="3" height="13" fill="#ff0000"/>
<rect x="704" y="258" width="1" height="11" fill="#ff4500"/>
<rect x="708" y="250" width="1" height="24" fill="#32cd32"/>
<rect x="707" y="257" width="3" height="10" fill="#32cd32"/>
<rect x="712" y="258" width="1" height="28" fill="#ff0000"/>
<rect x="711" y="263" width="3" height="4" fill="#ff0000"/>
<rect x="712" y="264" width="1" height="2" fill="#ff4500"/>
<rect x="716" y="252" width="1" height="20" fill="#ff0000"/>
<rect x="715" y="258" width="3" height="6" fill="#ff0000"/>
<rect x="716" y="259" width="1" height="4" fill="#ff4500"/>
<rect x="720" y="252" width="1" height="18" fill="#32cd32"/>
<rect x="719" y="258" width="3" height="8" fill="#32cd32"/>
<rect x="724" y="261" width="1" height="11" fill="#ff0000"/>
<rect x="723" y="264" width="3" height="2" fill="#ff0000"/>
<rect x="728" y="261" width="1" height="29" fill="#32cd32"/>
<rect x="727" y="266" width="3" height="14" fill="#32cd32"/>
<rect x="732" y="246" width="1" height="36" fill="#ff0000"/>
<rect x="731" y="252" width="3" height="28" fill="#ff0000"/>
<rect x="732" y="253" width="1" height="26" fill="#ff4500"/>
<rect x="736" y="236" width="1" height="19" fill="#ff0000"/>
<rect x="735" y="237" width="3" height="16" fill="#ff0000"/>
<rect x="736" y="238" width="1" height="14" fill="#ff4500"/>
<rect x="740" y="221" width="1" height="20" fill="#ff0000"/>
<rect x="739" y="231" width="3" height="6" fill="#ff0000"/>
<rect x="740" y="232" width="1" height="4" fill="#ff4500"/>
<rect x="744" y="225" width="1" height="12" fill="#32cd32"/>
<rect x="743" y="231" width="3" height="2" fill="#32cd32"/>
<rect x="748" y="227" width="1" height="12" fill="#ff0000"/>
<rect x="747" y="227" width="3" height="6" fill="#ff0000"/>
<rect x="748" y="228" width="1" height="4" fill="#ff4500"/>
<rect x="752" y="217" width="1" height="19" fill="#ff0000"/>
<rect x="751" y="217" width="3" height="12" fill="#ff0000"/>
<rect x="752" y="218" width="1" height="10" fill="#ff4500"/>
<rect x="756" y="196" width="1" height="37" fill="#32cd32"/>
<rect x="755" y="218" width="3" height="10" fill="#32cd32"/>
<rect x="760" y="225" width="1" height="17" fill="#32cd32"/>
<rect x="759" y="227" width="3" height="9" fill="#32cd32"/>
<rect x="764" y="227" width="1" height="17" fill="#ff0000"/>
<rect x="763" y="230" width="3" height="6" fill="#ff0000"/>
<rect x="764" y="231" width="1" height="4" fill="#ff4500"/>
<rect x="768" y="220" width="1" height="18" fill="#ff0000"/>
<rect x="767" y="221" width="3" height="10" fill="#ff0000"/>
<rect x="768" y="222" width="1" height="8" fill="#ff4500"/>
<rect x="772" y="217" width="1" height="10" fill="#32cd32"/>
<rect x="771" y="221" width="3" height="3" fill="#32cd32"/>
<rect x="776" y="222" width="1" height="22" fill="#32cd32"/>
<rect x="775" y="223" width="3" height="14" fill="#32cd32"/>
<rect x="780" y="215" width="1" height="31" fill="#ff0000"/>
<rect x="779" y="222" width="3" height="14" fill="#ff0000"/>
<rect x="780" y="223" width="1" height="12" fill="#ff4500"/>
<rect x="784" y="206" width="1" height="20" fill="#32cd32"/>
<rect x="783" y="222" width="3" height="2" fill="#32cd32"/>
<rect x="788" y="216" width="1" height="12" fill="#32cd32"/>
<rect x="787" y="223" width="3" height="3" fill="#32cd32"/>
<rect x="792" y="218" width="1" height="16" fill="#ff0000"/>
<rect x="791" y="219" width="3" height="8" fill="#ff0000"/>
<rect x="792" y="220" width="1" height="6" fill="#ff4500"/>
<rect x="796" y="210" width="1" height="11" fill="#ff0000"/>
<rect x="795" y="214" width="3" height="5" fill="#ff0000"/>
<rect x="796" y="215" width="1" height="3" fill="#ff4500"/>
<rect x="800" y="186" width="1" height="35" fill="#ff0000"/>
<rect x="799" y="196" width="3" height="18" fill="#ff0000"/>
<rect x="800" y="197" width="1" height="16" fill="#ff4500"/>
<rect x="804" y="180" width="1" height="21" fill="#ff0000"/>
<rect x="803" y="187" width="3" height="10" fill="#ff0000"/>
<rect x="804" y="188" width="1" height="8" fill="#ff4500"/>
<rect x="808" y="183" width="1" height="15" fill="#32cd32"/>
<rect x="807" y="187" width="3" height="10" fill="#32cd32"/>
<rect x="812" y="183" width="1" height="16" fill="#ff0000"/>
<rect x="811" y="184" width="3" height="13" fill="#ff0000"/>
<rect x="812" y="185" width="1" height="11" fill="#ff4500"/>
<rect x="816" y="182" width="1" height="13" fill="#ff0000"/>
<rect x="815" y="187" width="3" height="4" fill="#ff0000"/>
<rect x="816" y="188" width="1" height="2" fill="#ff4500"/>
<rect x="820" y="181" width="1" height="10" fill="#32cd32"/>
<rect x="819" y="186" width="3" height="2" fill="#32cd32"/>
<rect x="824" y="186" width="1" height="25" fill="#32cd32"/>
<rect x="823" y="188" width="3" height="20" fill="#32cd32"/>
<rect x="828" y="208" width="1" height="33" fill="#32cd32"/>
<rect x="827" y="208" width="3" height="26" fill="#32cd32"/>
<rect x="832" y="216" width="1" height="19" fill="#ff0000"/>
<rect x="831" y="216" width="3" height="18" fill="#ff0000"/>
<rect x="832" y="217" width="1" height="16" fill="#ff4500"/>
<rect x="836" y="215" width="1" height="22" fill="#32cd32"/>
<rect x="835" y="216" width="3" height="18" fill="#32cd32"/>
<rect x="840" y="225" width="1" height="12" fill="#ff0000"/>
<rect x="839" y="232" width="3" height="1" fill="#ff0000"/>
<rect x="844" y="223" width="1" height="15" fill="#ff0000"/>
<rect x="843" y="224" width="3" height="9" fill="#ff0000"/>
<rect x="844" y="225" width="1" height="7" fill="#ff4500"/>
<rect x="848" y="223" width="1" height="26" fill="#32cd32"/>
<rect x="847" y="224" width="3" height="23" fill="#32cd32"/>
<rect x="852" y="234" width="1" height="23" fill="#ff0000"/>
<rect x="851" y="234" width="3" height="13" fill="#ff0000"/>
<rect x="852" y="235" width="1" height="11" fill="#ff4500"/>
<rect x="856" y="229" width="1" height="11" fill="#ff0000"/>
<rect x="855" y="230" width="3" height="4" fill="#ff0000"/>
<rect x="856" y="231" width="1" height="2" fill="#ff4500"/>
<rect x="860" y="222" width="1" height="16" fill="#32cd32"/>
<rect x="859" y="230" width="3" height="2" fill="#32cd32"/>
<rect x="864" y="229" width="1" height="14" fill="#32cd32"/>
<rect x="863" y="231" width="3" height="10" fill="#32cd32"/>
<rect x="868" y="232" width="1" height="10" fill="#ff0000"/>
<rect x="867" y="234" width="3" height="7" fill="#ff0000"/>
<rect x="868" y="235" width="1" height="5" fill="#ff4500"/>
<rect x="872" y="224" width="1" height="22" fill="#ff0000"/>
<rect x="871" y="229" width="3" height="5" fill="#ff0000"/>
<rect x="872" y="230" width="1" height="3" fill="#ff4500"/>
<rect x="876" y="217" width="1" height="29" fill="#32cd32"/>
<rect x="875" y="229" width="3" height="15" fill="#32cd32"/>
<rect x="880" y="229" width="1" height="22" fill="#ff0000"/>
<rect x="879" y="230" width="3" height="14" fill="#ff0000"/>
<rect x="880" y="231" width="1" height="12" fill="#ff4500"/>
<rect x="884" y="214" width="1" height="36" fill="#ff0000"/>
<rect x="883" y="217" width="3" height="13" fill="#ff0000"/>
<rect x="884" y="218" width="1" height="11" fill="#ff4500"/>
<rect x="888" y="205" width="1" height="14" fill="#ff0000"/>
<rect x="887" y="210" width="3" height="7" fill="#ff0000"/>
<rect x="888" y="211" width="1" height="5" fill="#ff4500"/>
<rect x="892" y="208" width="1" height="26" fill="#32cd32"/>
<rect x="891" y="211" width="3" height="22" fill="#32cd32"/>
<rect x="896" y="231" width="1" height="58" fill="#32cd32"/>
<rect x="895" y="231" width="3" height="56" fill="#32cd32"/>
<rect x="900" y="249" width="1" height="38" fill="#ff0000"/>
<rect x="899" y="251" width="3" height="35" fill="#ff0000"/>
<rect x="900" y="252" width="1" height="33" fill="#ff4500"/>
<rect x="904" y="220" width="1" height="32" fill="#ff0000"/>
<rect x="903" y="225" width="3" height="27" fill="#ff0000"/>
<rect x="904" y="226" width="1" height="25" fill="#ff4500"/>
<rect x="908" y="222" width="1" height="89" fill="#32cd32"/>
<rect x="907" y="225" width="3" height="61" fill="#32cd32"/>
<rect x="912" y="274" width="1" height="19" fill="#32cd32"/>
<rect x="911" y="283" width="3" height="3" fill="#32cd32"/>
<rect x="916" y="276" width="1" height="11" fill="#ff0000"/>
<rect x="915" y="282" width="3" height="3" fill="#ff0000"/>
<rect x="916" y="283" width="1" height="1" fill="#ff4500"/>
<rect x="920" y="244" width="1" height="48" fill="#ff0000"/>
<rect x="919" y="255" width="3" height="28" fill="#ff0000"/>
<rect x="920" y="256" width="1" height="26" fill="#ff4500"/>
<rect x="924" y="238" width="1" height="24" fill="#ff0000"/>
<rect x="923" y="245" width="3" height="11" fill="#ff0000"/>
<rect x="924" y="246" width="1" height="9" fill="#ff4500"/>
<rect x="928" y="228" width="1" height="23" fill="#32cd32"/>
<rect x="927" y="246" width="3" height="4" fill="#32cd32"/>
<rect x="932" y="209" width="1" height="47" fill="#ff0000"/>
<rect x="931" y="211" width="3" height="38" fill="#ff0000"/>
<rect x="932" y="212" width="1" height="36" fill="#ff4500"/>
<rect x="936" y="218" width="1" height="12" fill="#32cd32"/>
<rect x="935" y="221" width="3" height="4" fill="#32cd32"/>
<rect x="940" y="220" width="1" height="10" fill="#ff0000"/>
<rect x="939" y="220" width="3" height="5" fill="#ff0000"/>
<rect x="940" y="221" width="1" height="3" fill="#ff4500"/>
<rect x="944" y="209" width="1" height="21" fill="#ff0000"/>
<rect x="943" y="215" width="3" height="6" fill="#ff0000"/>
<rect x="944" y="216" width="1" height="4" fill="#ff4500"/>
<rect x="948" y="215" width="1" height="75" fill="#32cd32"/>
<rect x="947" y="215" width="3" height="75" fill="#32cd32"/>
<rect x="952" y="248" width="1" height="43" fill="#ff0000"/>
<rect x="951" y="263" width="3" height="27" fill="#ff0000"/>
<rect x="952" y="264" width="1" height="25" fill="#ff4500"/>
<rect x="956" y="261" width="1" height="28" fill="#32cd32"/>
<rect x="955" y="263" width="3" height="17" fill="#32cd32"/>
<rect x="960" y="279" width="1" height="19" fill="#32cd32"/>
<rect x="959" y="280" width="3" height="13" fill="#32cd32"/>
<rect x="964" y="275" width="1" height="26" fill="#ff0000"/>
<rect x="963" y="292" width="3" height="7" fill="#ff0000"/>
<rect x="964" y="293" width="1" height="5" fill="#ff4500"/>
<rect x="968" y="287" width="1" height="10" fill="#ff0000"/>
<rect x="967" y="287" width="3" height="6" fill="#ff0000"/>
<rect x="968" y="288" width="1" height="4" fill="#ff4500"/>
<rect x="972" y="259" width="1" height="30" fill="#ff0000"/>
<rect x="971" y="262" width="3" height="26" fill="#ff0000"/>
<rect x="972" y="263" width="1" height="24" fill="#ff4500"/>
<rect x="976" y="230" width="1" height="35" fill="#ff0000"/>
<rect x="975" y="235" width="3" height="28" fill="#ff0000"/>
<rect x="976" y="236" width="1" height="26" fill="#ff4500"/>
<rect x="980" y="235" width="1" height="28" fill="#32cd32"/>
<rect x="979" y="235" width="3" height="26" fill="#32cd32"/>
<rect x="984" y="208" width="1" height="56" fill="#ff0000"/>
<rect x="983" y="211" width="3" height="50" fill="#ff0000"/>
<rect x="984" y="212" width="1" height="48" fill="#ff4500"/>
<rect x="988" y="198" width="1" height="41" fill="#32cd32"/>
<rect x="987" y="211" width="3" height="23" fill="#32cd32"/>
<rect x="992" y="225" width="1" height="14" fill="#ff0000"/>
<rect x="991" y="232" width="3" height="2" fill="#ff0000"/>
<rect x="996" y="228" width="1" height="29" fill="#32cd32"/>
<rect x="995" y="233" width="3" height="24" fill="#32cd32"/>
<rect x="1000" y="233" width="1" height="78" fill="#32cd32"/>
<rect x="999" y="256" width="3" height="55" fill="#32cd32"/>
<rect x="1004" y="251" width="1" height="60" fill="#ff0000"/>
<rect x="1003" y="256" width="3" height="55" fill="#ff0000"/>
<rect x="1004" y="257" width="1" height="53" fill="#ff4500"/>
<rect x="1008" y="247" width="1" height="52" fill="#32cd32"/>
<rect x="1007" y="258" width="3" height="34" fill="#32cd32"/>
<rect x="1012" y="269" width="1" height="39" fill="#32cd32"/>
<rect x="1011" y="292" width="3" height="14" fill="#32cd32"/>
<rect x="1016" y="298" width="1" height="12" fill="#32cd32"/>
<rect x="1015" y="305" width="3" height="3" fill="#32cd32"/>
<rect x="1020" y="288" width="1" height="48" fill="#32cd32"/>
<rect x="1019" y="307" width="3" height="22" fill="#32cd32"/>
<rect x="1024" y="329" width="1" height="28" fill="#32cd32"/>
<rect x="1023" y="329" width="3" height="16" fill="#32cd32"/>
<rect x="1028" y="309" width="1" height="38" fill="#ff0000"/>
<rect x="1027" y="311" width="3" height="34" fill="#ff0000"/>
<rect x="1028" y="312" width="1" height="32" fill="#ff4500"/>
<rect x="1032" y="294" width="1" height="26" fill="#ff0000"/>
<rect x="1031" y="295" width="3" height="16" fill="#ff0000"/>
<rect x="1032" y="296" width="1" height="14" fill="#ff4500"/>
<rect x="1036" y="308" width="1" height="8" fill="#32cd32"/>
<rect x="1035" y="311" width="3" height="3" fill="#32cd32"/>
<rect x="888" y="206" width="223" height="2" fill="#ff2020"/>
<rect x="890" y="285" width="236" height="2" fill="#8cc600"/>
<rect x="1017" y="354" width="111" height="2" fill="#2286e2"/>
</g>
</g>
<g shape-rendering="crispEdges">
<rect x="4" y="384" width="1" height="12" fill="#c0c0c0"/>
<rect x="8" y="382" width="1" height="14" fill="#c0c0c0"/>
<rect x="12" y="382" width="1" height="14" fill="#c0c0c0"/>
<rect x="16" y="380" width="1" height="16" fill="#c0c0c0"/>
<rect x="20" y="380" width="1" height="16" fill="#c0c0c0"/>
<rect x="24" y="379" width="1" height="17" fill="#c0c0c0"/>
<rect x="28" y="379" width="1" height="17" fill="#c0c0c0"/>
<rect x="32" y="379" width="1" height="17" fill="#c0c0c0"/>
<rect x="36" y="379" width="1" height="17" fill="#c0c0c0"/>
<rect x="40" y="379" width="1" height="17" fill="#c0c0c0"/>
<rect x="44" y="379" width="1" height="17" fill="#c0c0c0"/>
<rect x="48" y="379" width="1" height="17" fill="#c0c0c0"/>
<rect x="52" y="379" width="1" height="17" fill="#c0c0c0"/>
<rect x="56" y="379" width="1" height="17" fill="#c0c0c0"/>
<rect x="60" y="380" width="1" height="16" fill="#c0c0c0"/>
<rect x="64" y="380" width="1" height="16" fill="#c0c0c0"/>
<rect x="68" y="384" width="1" height="12" fill="#c0c0c0"/>
<rect x="72" y="387" width="1" height="9" fill="#c0c0c0"/>
<rect x="76" y="389" width="1" height="7" fill="#c0c0c0"/>
<rect x="80" y="393" width="1" height="3" fill="#c0c0c0"/>
<rect x="84" y="395" width="1" height="1" fill="#c0c0c0"/>
<rect x="88" y="395" width="1" height="1" fill="#c0c0c0"/>
<rect x="92" y="393" width="1" height="3" fill="#c0c0c0"/>
<rect x="96" y="392" width="1" height="4" fill="#c0c0c0"/>
<rect x="100" y="392" width="1" height="4" fill="#c0c0c0"/>
<rect x="104" y="391" width="1" height="5" fill="#c0c0c0"/>
<rect x="108" y="391" width="1" height="5" fill="#c0c0c0"/>
<rect x="112" y="391" width="1" height="5" fill="#c0c0c0"/>
<rect x="116" y="391" width="1" height="5" fill="#c0c0c0"/>
<rect x="120" y="391" width="1" height="5" fill="#c0c0c0"/>
<rect x="124" y="391" width="1" height="5" fill="#c0c0c0"/>
<rect x="128" y="391" width="1" height="5" fill="#c0c0c0"/>
<rect x="132" y="392" width="1" height="4" fill="#c0c0c0"/>
<rect x="136" y="393" width="1" height="3" fill="#c0c0c0"/>
<rect x="140" y="394" width="1" height="2" fill="#c0c0c0"/>
<rect x="144" y="395" width="1" height="1" fill="#c0c0c0"/>
<rect x="148" y="395" width="1" height="1" fill="#c0c0c0"/>
<rect x="152" y="395" width="1" height="7" fill="#c0c0c0"/>
<rect x="156" y="395" width="1" height="10" fill="#c0c0c0"/>
<rect x="160" y="395" width="1" height="11" fill="#c0c0c0"/>
<rect x="164" y="395" width="1" height="11" fill="#c0c0c0"/>
<rect x="168" y="395" width="1" height="8" fill="#c0c0c0"/>
<rect x="172" y="395" width="1" height="7" fill="#c0c0c0"/>
<rect x="176" y="395" width="1" height="6" fill="#c0c0c0"/>
<rect x="180" y="395" width="1" height="5" fill="#c0c0c0"/>
<rect x="184" y="395" width="1" height="4" fill="#c0c0c0"/>
<rect x="188" y="395" width="1" height="1" fill="#c0c0c0"/>
<rect x="192" y="391" width="1" height="5" fill="#c0c0c0"/>
<rect x="196" y="388" width="1" height="8" fill="#c0c0c0"/>
<rect x="200" y="387" width="1" height="9" fill="#c0c0c0"/>
<rect x="204" y="385" width="1" height="11" fill="#c0c0c0"/>
<rect x="208" y="386" width="1" height="10" fill="#c0c0c0"/>
<rect x="212" y="386" width="1" height="10" fill="#c0c0c0"/>
<rect x="216" y="384" width="1" height="12" fill="#c0c0c0"/>
<rect x="220" y="382" width="1" height="14" fill="#c0c0c0"/>
<rect x="224" y="380" width="1" height="16" fill="#c0c0c0"/>
<rect x="228" y="378" width="1" height="18" fill="#c0c0c0"/>
<rect x="232" y="378" width="1" height="18" fill="#c0c0c0"/>
<rect x="236" y="377" width="1" height="19" fill="#c0c0c0"/>
<rect x="240" y="376" width="1" height="20" fill="#c0c0c0"/>
<rect x="244" y="376" width="1" height="20" fill="#c0c0c0"/>
<rect x="248" y="375" width="1" height="21" fill="#c0c0c0"/>
<rect x="252" y="375" width="1" height="21" fill="#c0c0c0"/>
<rect x="256" y="376" width="1" height="20" fill="#c0c0c0"/>
<rect x="260" y="379" width="1" height="17" fill="#c0c0c0"/>
<rect x="264" y="382" width="1" height="14" fill="#c0c0c0"/>
<rect x="268" y="384" width="1" height="12" fill="#c0c0c0"/>
<rect x="272" y="386" width="1" height="10" fill="#c0c0c0"/>
<rect x="276" y="387" width="1" height="9" fill="#c0c0c0"/>
<rect x="280" y="387" width="1" height="9" fill="#c0c0c0"/>
<rect x="284" y="391" width="1" height="5" fill="#c0c0c0"/>
<rect x="288" y="392" width="1" height="4" fill="#c0c0c0"/>
<rect x="292" y="395" width="1" height="1" fill="#c0c0c0"/>
<rect x="296" y="395" width="1" height="1" fill="#c0c0c0"/>
<rect x="300" y="395" width="1" height="1" fill="#c0c0c0"/>
<rect x="304" y="395" width="1" height="1" fill="#c0c0c0"/>
<rect x="308" y="395" width="1" height="1" fill="#c0c0c0"/>
<rect x="312" y="395" width="1" height="1" fill="#c0c0c0"/>
<rect x="316" y="395" width="1" height="2" fill="#c0c0c0"/>
<rect x="320" y="395" width="1" height="2" fill="#c0c0c0"/>
<rect x="324" y="395" width="1" height="5" fill="#c0c0c0"/>
<rect x="328" y="395" width="1" height="7" fill="#c0c0c0"/>
<rect x="332" y="395" width="1" height="10" fill="#c0c0c0"/>
<rect x="336" y="395" width="1" height="15" fill="#c0c0c0"/>
<rect x="340" y="395" width="1" height="16" fill="#c0c0c0"/>
<rect x="344" y="395" width="1" height="21" fill="#c0c0c0"/>
<rect x="348" y="395" width="1" height="23" fill="#c0c0c0"/>
<rect x="352" y="395" width="1" height="28" fill="#c0c0c0"/>
<rect x="356" y="395" width="1" height="31" fill="#c0c0c0"/>
<rect x="360" y="395" width="1" height="35" fill="#c0c0c0"/>
<rect x="364" y="395" width="1" height="37" fill="#c0c0c0"/>
<rect x="368" y="395" width="1" height="38" fill="#c0c0c0"/>
<rect x="372" y="395" width="1" height="38" fill="#c0c0c0"/>
<rect x="376" y="395" width="1" height="38" fill="#c0c0c0"/>
<rect x="380" y="395" width="1" height="35" fill="#c0c0c0"/>
<rect x="384" y="395" width="1" height="34" fill="#c0c0c0"/>
<rect x="388" y="395" width="1" height="32" fill="#c0c0c0"/>
<rect x="392" y="395" width="1" height="29" fill="#c0c0c0"/>
<rect x="396" y="395" width="1" height="27" fill="#c0c0c0"/>
<rect x="400" y="395" width="1" height="24" fill="#c0c0c0"/>
<rect x="404" y="395" width="1" height="23" fill="#c0c0c0"/>
<rect x="408" y="395" width="1" height="22" fill="#c0c0c0"/>
<rect x="412" y="395" width="1" height="22" fill="#c0c0c0"/>
<rect x="416" y="395" width="1" height="20" fill="#c0c0c0"/>
<rect x="420" y="395" width="1" height="19" fill="#c0c0c0"/>
<rect x="424" y="395" width="1" height="18" fill="#c0c0c0"/>
<rect x="428" y="395" width="1" height="17" fill="#c0c0c0"/>
<rect x="432" y="395" width="1" height="17" fill="#c0c0c0"/>
<rect x="436" y="395" width="1" height="16" fill="#c0c0c0"/>
<rect x="440" y="395" width="1" height="12" fill="#c0c0c0"/>
<rect x="444" y="395" width="1" height="8" fill="#c0c0c0"/>
<rect x="448" y="395" width="1" height="7" fill="#c0c0c0"/>
<rect x="452" y="395" width="1" height="5" fill="#c0c0c0"/>
<rect x="456" y="395" width="1" height="1" fill="#c0c0c0"/>
<rect x="460" y="395" width="1" height="1" fill="#c0c0c0"/>
<rect x="464" y="395" width="1" height="1" fill="#c0c0c0"/>
<rect x="468" y="395" width="1" height="1" fill="#c0c0c0"/>
<rect x="472" y="393" width="1" height="3" fill="#c0c0c0"/>
<rect x="476" y="392" width="1" height="4" fill="#c0c0c0"/>
<rect x="480" y="391" width="1" height="5" fill="#c0c0c0"/>
<rect x="484" y="391" width="1" height="5" fill="#c0c0c0"/>
<rect x="488" y="389" width="1" height="7" fill="#c0c0c0"/>
<rect x="492" y="389" width="1" height="7" fill="#c0c0c0"/>
<rect x="496" y="389" width="1" height="7" fill="#c0c0c0"/>
<rect x="500" y="389" width="1" height="7" fill="#c0c0c0"/>
<rect x="504" y="389" width="1" height="7" fill="#c0c0c0"/>
<rect x="508" y="390" width="1" height="6" fill="#c0c0c0"/>
<rect x="512" y="391" width="1" height="5" fill="#c0c0c0"/>
<rect x="516" y="389" width="1" height="7" fill="#c0c0c0"/>
<rect x="520" y="389" width="1" height="7" fill="#c0c0c0"/>
<rect x="524" y="395" width="1" height="1" fill="#c0c0c0"/>
<rect x="528" y="395" width="1" height="3" fill="#c0c0c0"/>
<rect x="532" y="395" width="1" height="6" fill="#c0c0c0"/>
<rect x="536" y="395" width="1" height="6" fill="#c0c0c0"/>
<rect x="540" y="395" width="1" height="6" fill="#c0c0c0"/>
<rect x="544" y="395" width="1" height="6" fill="#c0c0c0"/>
<rect x="548" y="395" width="1" height="5" fill="#c0c0c0"/>
<rect x="552" y="395" width="1" height="4" fill="#c0c0c0"/>
<rect x="556" y="395" width="1" height="4" fill="#c0c0c0"/>
<rect x="560" y="395" width="1" height="4" fill="#c0c0c0"/>
<rect x="564" y="395" width="1" height="2" fill="#c0c0c0"/>
<rect x="568" y="395" width="1" height="1" fill="#c0c0c0"/>
<rect x="572" y="393" width="1" height="3" fill="#c0c0c0"/>
<rect x="576" y="393" width="1" height="3" fill="#c0c0c0"/>
<rect x="580" y="393" width="1" height="3" fill="#c0c0c0"/>
<rect x="584" y="392" width="1" height="4" fill="#c0c0c0"/>
<rect x="588" y="393" width="1" height="3" fill="#c0c0c0"/>
<rect x="592" y="393" width="1" height="3" fill="#c0c0c0"/>
<rect x="596" y="393" width="1" height="3" fill="#c0c0c0"/>
<rect x="600" y="394" width="1" height="2" fill="#c0c0c0"/>
<rect x="604" y="395" width="1" height="1" fill="#c0c0c0"/>
<rect x="608" y="395" width="1" height="2" fill="#c0c0c0"/>
<rect x="612" y="395" width="1" height="3" fill="#c0c0c0"/>
<rect x="616" y="395" width="1" height="3" fill="#c0c0c0"/>
<rect x="620" y="395" width="1" height="2" fill="#c0c0c0"/>
<rect x="624" y="395" width="1" height="1" fill="#c0c0c0"/>
<rect x="628" y="395" width="1" height="1" fill="#c0c0c0"/>
<rect x="632" y="394" width="1" height="2" fill="#c0c0c0"/>
<rect x="636" y="392" width="1" height="4" fill="#c0c0c0"/>
<rect x="640" y="392" width="1" height="4" fill="#c0c0c0"/>
<rect x="644" y="393" width="1" height="3" fill="#c0c0c0"/>
<rect x="648" y="394" width="1" height="2" fill="#c0c0c0"/>
<rect x="652" y="395" width="1" height="1" fill="#c0c0c0"/>
<rect x="656" y="395" width="1" height="1" fill="#c0c0c0"/>
<rect x="660" y="395" width="1" height="4" fill="#c0c0c0"/>
<rect x="664" y="395" width="1" height="8" fill="#c0c0c0"/>
<rect x="668" y="395" width="1" height="10" fill="#c0c0c0"/>
<rect x="672" y="395" width="1" height="12" fill="#c0c0c0"/>
<rect x="676" y="395" width="1" height="13" fill="#c0c0c0"/>
<rect x="680" y="395" width="1" height="13" fill="#c0c0c0"/>
<rect x="684" y="395" width="1" height="14" fill="#c0c0c0"/>
<rect x="688" y="395" width="1" height="15" fill="#c0c0c0"/>
<rect x="692" y="395" width="1" height="17" fill="#c0c0c0"/>
<rect x="696" y="395" width="1" height="21" fill="#c0c0c0"/>
<rect x="700" y="395" width="1" height="22" fill="#c0c0c0"/>
<rect x="704" y="395" width="1" height="22" fill="#c0c0c0"/>
<rect x="708" y="395" width="1" height="23" fill="#c0c0c0"/>
<rect x="712" y="395" width="1" height="23" fill="#c0c0c0"/>
<rect x="716" y="395" width="1" height="22" fill="#c0c0c0"/>
<rect x="720" y="395" width="1" height="22" fill="#c0c0c0"/>
<rect x="724" y="395" width="1" height="21" fill="#c0c0c0"/>
<rect x="728" y="395" width="1" height="21" fill="#c0c0c0"/>
<rect x="732" y="395" width="1" height="20" fill="#c0c0c0"/>
<rect x="736" y="395" width="1" height="16" fill="#c0c0c0"/>
<rect x="740" y="395" width="1" height="13" fill="#c0c0c0"/>
<rect x="744" y="395" width="1" height="10" fill="#c0c0c0"/>
<rect x="748" y="395" width="1" height="8" fill="#c0c0c0"/>
<rect x="752" y="395" width="1" height="5" fill="#c0c0c0"/>
<rect x="756" y="395" width="1" height="3" fill="#c0c0c0"/>
<rect x="760" y="395" width="1" height="2" fill="#c0c0c0"/>
<rect x="764" y="395" width="1" height="2" fill="#c0c0c0"/>
<rect x="768" y="395" width="1" height="1" fill="#c0c0c0"/>
<rect x="772" y="395" width="1" height="1" fill="#c0c0c0"/>
<rect x="776" y="395" width="1" height="1" fill="#c0c0c0"/>
<rect x="780" y="394" width="1" height="2" fill="#c0c0c0"/>
<rect x="784" y="394" width="1" height="2" fill="#c0c0c0"/>
<rect x="788" y="393" width="1" height="3" fill="#c0c0c0"/>
<rect x="792" y="393" width="1" height="3" fill="#c0c0c0"/>
<rect x="796" y="391" width="1" height="5" fill="#c0c0c0"/>
<rect x="800" y="389" width="1" height="7" fill="#c0c0c0"/>
<rect x="804" y="387" width="1" height="9" fill="#c0c0c0"/>
<rect x="808" y="385" width="1" height="11" fill="#c0c0c0"/>
<rect x="812" y="383" width="1" height="13" fill="#c0c0c0"/>
<rect x="816" y="382" width="1" height="14" fill="#c0c0c0"/>
<rect x="820" y="382" width="1" height="14" fill="#c0c0c0"/>
<rect x="824" y="383" width="1" height="13" fill="#c0c0c0"/>
<rect x="828" y="387" width="1" height="9" fill="#c0c0c0"/>
<rect x="832" y="389" width="1" height="7" fill="#c0c0c0"/>
<rect x="836" y="391" width="1" height="5" fill="#c0c0c0"/>
<rect x="840" y="393" width="1" height="3" fill="#c0c0c0"/>
<rect x="844" y="394" width="1" height="2" fill="#c0c0c0"/>
<rect x="848" y="395" width="1" height="1" fill="#c0c0c0"/>
<rect x="852" y="395" width="1" height="2" fill="#c0c0c0"/>
<rect x="856" y="395" width="1" height="3" fill="#c0c0c0"/>
<rect x="860" y="395" width="1" height="3" fill="#c0c0c0"/>
<rect x="864" y="395" width="1" height="4" fill="#c0c0c0"/>
<rect x="868" y="395" width="1" height="4" fill="#c0c0c0"/>
<rect x="872" y="395" width="1" height="3" fill="#c0c0c0"/>
<rect x="876" y="395" width="1" height="4" fill="#c0c0c0"/>
<rect x="880" y="395" width="1" height="4" fill="#c0c0c0"/>
<rect x="884" y="395" width="1" height="3" fill="#c0c0c0"/>
<rect x="888" y="395" width="1" height="2" fill="#c0c0c0"/>
<rect x="892" y="395" width="1" height="2" fill="#c0c0c0"/>
<rect x="896" y="395" width="1" height="7" fill="#c0c0c0"/>
<rect x="900" y="395" width="1" height="8" fill="#c0c0c0"/>
<rect x="904" y="395" width="1" height="7" fill="#c0c0c0"/>
<rect x="908" y="395" width="1" height="10" fill="#c0c0c0"/>
<rect x="912" y="395" width="1" height="13" fill="#c0c0c0"/>
<rect x="916" y="395" width="1" height="15" fill="#c0c0c0"/>
<rect x="920" y="395" width="1" height="14" fill="#c0c0c0"/>
<rect x="924" y="395" width="1" height="13" fill="#c0c0c0"/>
<rect x="928" y="395" width="1" height="9" fill="#c0c0c0"/>
<rect x="932" y="395" width="1" height="6" fill="#c0c0c0"/>
<rect x="936" y="395" width="1" height="4" fill="#c0c0c0"/>
<rect x="940" y="395" width="1" height="1" fill="#c0c0c0"/>
<rect x="944" y="395" width="1" height="1" fill="#c0c0c0"/>
<rect x="948" y="395" width="1" height="3" fill="#c0c0c0"/>
<rect x="952" y="395" width="1" height="5" fill="#c0c0c0"/>
<rect x="956" y="395" width="1" height="8" fill="#c0c0c0"/>
<rect x="960" y="395" width="1" height="10" fill="#c0c0c0"/>
<rect x="964" y="395" width="1" height="13" fill="#c0c0c0"/>
<rect x="968" y="395" width="1" height="15" fill="#c0c0c0"/>
<rect x="972" y="395" width="1" height="13" fill="#c0c0c0"/>
<rect x="976" y="395" width="1" height="9" fill="#c0c0c0"/>
<rect x="980" y="395" width="1" height="8" fill="#c0c0c0"/>
<rect x="984" y="395" width="1" height="3" fill="#c0c0c0"/>
<rect x="988" y="395" width="1" height="1" fill="#c0c0c0"/>
<rect x="992" y="395" width="1" height="1" fill="#c0c0c0"/>
<rect x="996" y="395" width="1" height="1" fill="#c0c0c0"/>
<rect x="1000" y="395" width="1" height="6" fill="#c0c0c0"/>
<rect x="1004" y="395" width="1" height="5" fill="#c0c0c0"/>
<rect x="1008" y="395" width="1" height="8" fill="#c0c0c0"/>
<rect x="1012" y="395" width="1" height="10" fill="#c0c0c0"/>
<rect x="1016" y="395" width="1" height="14" fill="#c0c0c0"/>
<rect x="1020" y="395" width="1" height="17" fill="#c0c0c0"/>
<rect x="1024" y="395" width="1" height="22" fill="#c0c0c0"/>
<rect x="1028" y="395" width="1" height="22" fill="#c0c0c0"/>
<rect x="1032" y="395" width="1" height="20" fill="#c0c0c0"/>
<rect x="1036" y="395" width="1" height="21" fill="#c0c0c0"/>
</g>
<polyline points="4.4,385.6 11.0,384.3 17.8,383.0 23.7,381.5 34.8,377.5 41.4,375.6 53.3,373.4 59.0,373.4 65.8,374.5 72.5,377.0 77.7,379.2 83.6,383.0 89.5,386.3 95.3,388.9 101.5,390.6 108.5,391.5 122.5,390.6 140.0,390.6 150.5,391.5 155.7,393.2 161.0,396.7 167.9,399.9 173.2,401.6 178.4,402.3 184.6,403.4 190.7,401.1 197.7,397.6 202.9,395.0 209.9,391.5 216.9,388.0 222.2,385.9 227.4,383.6 232.4,382.5 238.7,380.4 245.7,379.0 250.9,377.2 257.9,376.5 264.9,376.9 270.1,377.6 275.4,379.0 282.4,381.1 287.6,383.9 293.7,386.3 299.8,388.6 305.9,390.8 312.0,393.5 317.3,395.5 324.3,396.4 329.5,397.8 335.6,400.3 341.7,402.5 347.8,406.0 353.9,411.3 360.0,416.5 366.1,421.2 371.4,425.2 377.5,428.7 383.6,430.5 388.8,431.3 395.0,429.6 401.1,428.2 407.2,425.7 413.3,423.5 419.4,420.9 425.5,418.8 431.6,416.5 437.7,415.3 443.8,412.5 449.9,409.5 456.0,406.9 460.0,405.5 467.0,401.7 473.1,399.0 479.2,396.1 485.3,393.8 491.4,392.1 497.5,390.8 503.6,389.4 509.7,389.1 515.9,388.6 522.0,388.6 528.1,390.3 533.3,392.1 539.4,394.3 545.5,396.4 551.6,398.2 557.7,399.6 563.9,400.4 569.1,399.6 575.2,397.6 581.3,396.4 587.4,394.7 593.5,394.3 599.6,392.6 605.7,392.6 611.9,393.3 618.0,394.3 624.1,395.5 630.2,395.5 636.3,395.0 642.4,394.3 648.5,394.3 654.6,393.5 660.7,393.3 666.0,394.7 672.1,397.3 678.2,399.9 684.3,402.5 690.0,406.4 696.1,408.3 701.3,410.4 707.5,412.5 713.6,414.7 719.7,416.5 725.8,417.4 731.9,417.4 737.1,416.1 743.2,414.4 749.3,411.8 755.5,408.6 761.6,405.7 767.7,402.5 773.8,399.6 779.9,397.6 786.0,396.4 791.2,394.7 797.3,392.9 803.5,391.2 809.6,390.3 815.7,388.0 821.8,385.9 827.9,385.4 834.0,384.5 840.1,385.4 845.3,386.8 851.5,390.0 857.6,392.1 862.8,394.7 869.8,396.4 875.0,398.2 882.0,399.6 887.2,399.6 893.4,399.6 899.5,399.6 905.6,400.4 911.7,401.7 916.9,402.5 920.0,404.3 923.5,405.1 928.7,406.5 935.7,405.5 941.8,404.8 947.9,402.2 953.2,401.3 959.3,400.4 965.4,401.3 971.5,403.4 977.6,404.6 983.7,405.5 989.8,403.8 995.9,402.2 1001.2,401.3 1007.3,400.4 1013.4,400.4 1019.5,401.7 1025.6,405.1 1031.7,408.6" fill="none" stroke="#ff0000" stroke-width="1" stroke-linejoin="round" shape-rendering="crispEdges" stroke-dasharray="3.2,2.8"/>
<polyline points="4.5,482.6 8.5,480.9 12.5,478.6 16.5,473.4 20.5,472.1 24.5,471.3 28.5,473.0 32.5,471.1 36.5,469.0 40.5,474.2 44.5,470.4 48.5,471.3 52.5,475.6 56.5,492.3 60.5,493.1 64.5,493.1 68.5,500.1 72.5,497.9 76.5,502.2 80.5,510.6 84.5,503.1 88.5,490.9 92.5,487.4 96.5,490.0 100.5,489.1 104.5,488.2 108.5,490.0 112.5,486.5 116.5,493.1 120.5,490.5 124.5,493.1 128.5,491.4 132.5,495.6 136.5,494.4 140.5,497.0 144.5,505.4 148.5,503.1 152.5,521.5 156.5,510.6 160.5,504.0 164.5,500.8 168.5,494.4 172.5,496.5 176.5,494.4 180.5,493.1 184.5,494.4 188.5,482.5 192.5,482.1 196.5,480.4 200.5,488.2 204.5,485.6 208.5,492.3 212.5,489.6 216.5,489.1 220.5,480.4 224.5,479.1 228.5,480.0 232.5,482.1 236.5,480.4 240.5,479.5 244.5,480.4 248.5,477.4 252.5,482.6 256.5,487.9 260.5,490.0 264.5,497.0 268.5,497.0 272.5,485.6 276.5,497.0 280.5,494.9 284.5,503.1 288.5,497.3 292.5,500.1 296.5,497.5 300.5,500.1 304.5,498.2 308.5,499.3 312.5,497.3 316.5,498.4 320.5,492.3 324.5,507.1 328.5,505.7 332.5,511.3 336.5,510.1 340.5,509.8 344.5,515.4 348.5,517.6 352.5,520.3 356.5,521.5 360.5,522.4 364.5,522.4 368.5,520.6 372.5,518.0 376.5,516.8 380.5,511.3 384.5,511.3 388.5,513.3 392.5,506.3 396.5,507.1 400.5,506.6 404.5,509.2 408.5,511.0 412.5,512.4 416.5,508.4 420.5,505.7 424.5,505.7 428.5,508.4 432.5,508.0 436.5,505.7 440.5,491.4 444.5,490.5 448.5,489.6 452.5,489.5 456.5,485.6 460.5,493.5 464.5,495.6 468.5,485.6 472.5,485.3 476.5,484.4 480.5,488.2 484.5,487.0 488.5,482.1 492.5,484.4 496.5,487.4 500.5,490.5 504.5,486.5 508.5,490.0 512.5,492.3 516.5,487.4 520.5,482.1 524.5,513.3 528.5,514.5 532.5,514.1 536.5,499.6 540.5,499.6 544.5,499.6 548.5,498.2 552.5,500.5 556.5,496.6 560.5,494.9 564.5,486.1 568.5,487.4 572.5,484.4 576.5,494.4 580.5,494.4 584.5,489.5 588.5,496.5 592.5,493.1 596.5,490.5 600.5,499.6 604.5,502.6 608.5,507.5 612.5,501.9 616.5,495.2 620.5,493.8 624.5,488.2 628.5,488.2 632.5,493.5 636.5,487.4 640.5,492.6 644.5,494.9 648.5,499.3 652.5,497.0 656.5,493.1 660.5,514.5 664.5,509.8 668.5,505.4 672.5,506.3 676.5,507.1 680.5,502.2 684.5,505.7 688.5,507.5 692.5,511.0 696.5,517.1 700.5,512.4 704.5,507.5 708.5,510.1 712.5,508.9 716.5,506.3 720.5,508.4 724.5,508.7 728.5,513.3 732.5,500.1 736.5,494.9 740.5,493.1 744.5,492.6 748.5,490.5 752.5,488.2 756.5,491.7 760.5,495.2 764.5,492.6 768.5,490.0 772.5,491.4 776.5,497.5 780.5,491.4 784.5,491.2 788.5,493.1 792.5,490.0 796.5,487.0 800.5,480.9 804.5,478.1 808.5,483.0 812.5,479.5 816.5,480.0 820.5,482.1 824.5,494.4 828.5,503.1 832.5,496.6 836.5,502.2 840.5,500.8 844.5,498.4 848.5,505.4 852.5,500.8 856.5,499.3 860.5,499.3 864.5,502.2 868.5,500.1 872.5,497.3 876.5,503.1 880.5,497.3 884.5,492.3 888.5,489.5 892.5,497.9 896.5,513.3 900.5,500.8 904.5,494.4 908.5,505.7 912.5,507.5 916.5,506.3 920.5,498.7 924.5,496.5 928.5,497.3 932.5,488.2 936.5,492.3 940.5,490.9 944.5,490.9 948.5,506.3 952.5,500.5 956.5,503.1 960.5,505.2 964.5,505.4 968.5,504.0 972.5,497.5 976.5,491.4 980.5,497.0 984.5,487.4 988.5,491.7 992.5,492.6 996.5,497.9 1000.5,506.3 1004.5,496.5 1008.5,501.9 1012.5,503.1 1016.5,504.5 1020.5,507.1 1024.5,509.6 1028.5,501.9 1032.5,499.3 1036.5,501.4" fill="none" stroke="#1e90ff" stroke-width="1" stroke-linejoin="round" shape-rendering="crispEdges"/>
<g shape-rendering="crispEdges">
<rect x="5" y="48" width="223" height="68" fill="#ffffff"/>
<rect x="7" y="50" width="52" height="25" fill="url(#gTab)"/>
<rect x="174" y="50" width="52" height="25" fill="url(#gTab)"/>
<rect x="7" y="74" width="109" height="40" fill="url(#gPrice)"/>
<rect x="118" y="74" width="108" height="40" fill="url(#gPrice)"/>
<rect x="7" y="50" width="52" height="1" fill="#1c1cb4"/>
<rect x="7" y="50" width="1" height="64" fill="#1c1cb4"/>
<rect x="174" y="50" width="52" height="1" fill="#1c1cb4"/>
<rect x="225" y="50" width="1" height="64" fill="#1c1cb4"/>
<rect x="7" y="113" width="109" height="1" fill="#1c1cb4"/>
<rect x="118" y="113" width="108" height="1" fill="#1c1cb4"/>
<rect x="58" y="50" width="1" height="24" fill="#1c1cb4"/>
<rect x="174" y="50" width="1" height="24" fill="#1c1cb4"/>
<rect x="115" y="74" width="1" height="40" fill="#1c1cb4"/>
<rect x="118" y="74" width="1" height="40" fill="#1c1cb4"/>
<rect x="11" y="74" width="44" height="1" fill="#8c8cf4"/>
<rect x="178" y="74" width="44" height="1" fill="#8c8cf4"/>
<rect x="61" y="50" width="111" height="22" fill="#ffffff"/>
<rect x="61" y="50" width="111" height="1" fill="#b0b0b0"/>
<rect x="61" y="71" width="111" height="1" fill="#c8c8c8"/>
<rect x="61" y="50" width="1" height="22" fill="#b0b0b0"/>
<rect x="171" y="50" width="1" height="22" fill="#c8c8c8"/>
<rect x="63" y="52" width="19" height="19" fill="url(#gBtn)"/>
<rect x="151" y="52" width="20" height="19" fill="url(#gBtn)"/>
<rect x="63" y="52" width="19" height="1" fill="#bdbdbd"/>
<rect x="63" y="70" width="19" height="1" fill="#a8a8a8"/>
<rect x="63" y="52" width="1" height="19" fill="#bdbdbd"/>
<rect x="81" y="52" width="1" height="19" fill="#a8a8a8"/>
<rect x="151" y="52" width="20" height="1" fill="#bdbdbd"/>
<rect x="151" y="70" width="20" height="1" fill="#a8a8a8"/>
<rect x="151" y="52" width="1" height="19" fill="#bdbdbd"/>
<rect x="170" y="52" width="1" height="19" fill="#a8a8a8"/>
</g>
<path d="M69 59.3 L74.2 59.3 L71.6 62.2 Z" fill="#4a62b8"/>
<path d="M157.9 61.8 L163.3 61.8 L160.6 58.9 Z" fill="#4a62b8"/>
<text x="19.3" y="65.8" font-size="12" fill="#ffffff" textLength="26" lengthAdjust="spacingAndGlyphs">SELL</text>
<text x="187.6" y="65.8" font-size="12" fill="#ffffff" textLength="23.4" lengthAdjust="spacingAndGlyphs">BUY</text>
<text x="147.2" y="64.9" font-size="11.6" fill="#1a1a1a" text-anchor="end" textLength="24" lengthAdjust="spacingAndGlyphs">0.01</text>
<text x="26.8" y="104.3" font-size="10.8" fill="#ffffff" font-weight="bold" textLength="24.2" lengthAdjust="spacingAndGlyphs">0.98</text>
<text x="136.8" y="104.3" font-size="10.8" fill="#ffffff" font-weight="bold" textLength="24.2" lengthAdjust="spacingAndGlyphs">0.98</text>
<text x="54.6" y="104.6" font-size="35" fill="#ffffff" textLength="33.6" lengthAdjust="spacingAndGlyphs" stroke="url(#gPriceU)" stroke-width="0.7">36</text>
<text x="164.6" y="104.6" font-size="35" fill="#ffffff" textLength="36.4" lengthAdjust="spacingAndGlyphs" stroke="url(#gPriceU)" stroke-width="0.7">40</text>
<text x="94.6" y="88.4" font-size="10.8" fill="#ffffff" font-weight="bold">5</text>
<text x="205.2" y="88.4" font-size="10.8" fill="#ffffff" font-weight="bold">4</text>
<path d="M7 41.2 L14.2 41.2 L10.6 37 Z" fill="#000"/>
<text x="18.9" y="42" font-size="10" fill="#000" textLength="55" lengthAdjust="spacingAndGlyphs">USDCHF,H4</text>
<text x="79.4" y="42" font-size="10" fill="#000" textLength="33.6" lengthAdjust="spacingAndGlyphs">0.98381</text>
<text x="115.60000000000001" y="42" font-size="10" fill="#000" textLength="33.6" lengthAdjust="spacingAndGlyphs">0.98417</text>
<text x="151.8" y="42" font-size="10" fill="#000" textLength="33.6" lengthAdjust="spacingAndGlyphs">0.98344</text>
<text x="188.0" y="42" font-size="10" fill="#000" textLength="33.6" lengthAdjust="spacingAndGlyphs">0.98365</text>
<text x="8.6" y="380" font-size="10" fill="#000" textLength="65" lengthAdjust="spacingAndGlyphs">MACD(12,26,9)</text>
<text x="77.2" y="380" font-size="10" fill="#000" textLength="40.8" lengthAdjust="spacingAndGlyphs">-0.001937</text>
<text x="120.9" y="380" font-size="10" fill="#000" textLength="41" lengthAdjust="spacingAndGlyphs">-0.001485</text>
<text x="8.6" y="452" font-size="10" fill="#000" textLength="67.4" lengthAdjust="spacingAndGlyphs">RSI(14) 44.1896</text>
<text x="1310.2" y="36" font-size="10" fill="#000" textLength="33" lengthAdjust="spacingAndGlyphs">1.01440</text>
<text x="1310.2" y="69" font-size="10" fill="#000" textLength="33" lengthAdjust="spacingAndGlyphs">1.01080</text>
<text x="1310.2" y="102" font-size="10" fill="#000" textLength="33" lengthAdjust="spacingAndGlyphs">1.00720</text>
<text x="1310.2" y="135" font-size="10" fill="#000" textLength="33" lengthAdjust="spacingAndGlyphs">1.00360</text>
<text x="1310.2" y="168" font-size="10" fill="#000" textLength="33" lengthAdjust="spacingAndGlyphs">1.00000</text>
<text x="1310.2" y="201" font-size="10" fill="#000" textLength="33" lengthAdjust="spacingAndGlyphs">0.99640</text>
<text x="1310.2" y="234" font-size="10" fill="#000" textLength="33" lengthAdjust="spacingAndGlyphs">0.99270</text>
<text x="1310.2" y="267" font-size="10" fill="#000" textLength="33" lengthAdjust="spacingAndGlyphs">0.98910</text>
<text x="1310.2" y="300" font-size="10" fill="#000" textLength="33" lengthAdjust="spacingAndGlyphs">0.98550</text>
<text x="1310.2" y="333" font-size="10" fill="#000" textLength="33" lengthAdjust="spacingAndGlyphs">0.98190</text>
<text x="1310.2" y="366" font-size="10" fill="#000" textLength="33" lengthAdjust="spacingAndGlyphs">0.97830</text>
<rect x="1306" y="308" width="41" height="11" fill="#000000" shape-rendering="crispEdges"/>
<text x="1310.2" y="317" font-size="10" fill="#fff" textLength="33" lengthAdjust="spacingAndGlyphs">0.98365</text>
<text x="1308" y="378" font-size="10" fill="#000" textLength="38.2" lengthAdjust="spacingAndGlyphs">0.002492</text>
<text x="1308" y="399" font-size="10" fill="#000" textLength="18.4" lengthAdjust="spacingAndGlyphs">0.00</text>
<text x="1308" y="434" font-size="10" fill="#000" textLength="40.6" lengthAdjust="spacingAndGlyphs">-0.003913</text>
<text x="1308" y="450" font-size="10" fill="#000" textLength="15.2" lengthAdjust="spacingAndGlyphs">100</text>
<text x="1308" y="477" font-size="10" fill="#000" textLength="9.8" lengthAdjust="spacingAndGlyphs">70</text>
<text x="1308" y="521" font-size="10" fill="#000" textLength="9.8" lengthAdjust="spacingAndGlyphs">30</text>
<text x="1308" y="548" font-size="10" fill="#000" textLength="5.2" lengthAdjust="spacingAndGlyphs">0</text>
<text x="3.4" y="564" font-size="10" fill="#000" textLength="51.2" lengthAdjust="spacingAndGlyphs">30 Oct 2018</text>
<text x="67.4" y="564" font-size="10" fill="#000" textLength="50.7" lengthAdjust="spacingAndGlyphs">2 Nov 00:00</text>
<text x="131.4" y="564" font-size="10" fill="#000" textLength="50.7" lengthAdjust="spacingAndGlyphs">6 Nov 19:00</text>
<text x="195.4" y="564" font-size="10" fill="#000" textLength="50.7" lengthAdjust="spacingAndGlyphs">9 Nov 11:00</text>
<text x="259.4" y="564" font-size="10" fill="#000" textLength="55.9" lengthAdjust="spacingAndGlyphs">14 Nov 00:00</text>
<text x="323.4" y="564" font-size="10" fill="#000" textLength="55.9" lengthAdjust="spacingAndGlyphs">16 Nov 19:00</text>
<text x="387.4" y="564" font-size="10" fill="#000" textLength="55.9" lengthAdjust="spacingAndGlyphs">21 Nov 11:00</text>
<text x="451.4" y="564" font-size="10" fill="#000" textLength="55.9" lengthAdjust="spacingAndGlyphs">24 Nov 00:00</text>
<text x="515.4" y="564" font-size="10" fill="#000" textLength="55.9" lengthAdjust="spacingAndGlyphs">28 Nov 19:00</text>
<text x="579.4" y="564" font-size="10" fill="#000" textLength="50.7" lengthAdjust="spacingAndGlyphs">3 Dec 11:00</text>
<text x="643.4" y="564" font-size="10" fill="#000" textLength="50.7" lengthAdjust="spacingAndGlyphs">6 Dec 00:00</text>
<text x="707.4" y="564" font-size="10" fill="#000" textLength="55.9" lengthAdjust="spacingAndGlyphs">10 Dec 19:00</text>
<text x="771.4" y="564" font-size="10" fill="#000" textLength="55.9" lengthAdjust="spacingAndGlyphs">13 Dec 11:00</text>
<text x="835.4" y="564" font-size="10" fill="#000" textLength="55.9" lengthAdjust="spacingAndGlyphs">18 Dec 00:00</text>
<text x="899.4" y="564" font-size="10" fill="#000" textLength="55.9" lengthAdjust="spacingAndGlyphs">20 Dec 19:00</text>
<text x="963.4" y="564" font-size="10" fill="#000" textLength="55.9" lengthAdjust="spacingAndGlyphs">26 Dec 07:00</text>
<text x="1027.4" y="564" font-size="10" fill="#000" textLength="55.9" lengthAdjust="spacingAndGlyphs">28 Dec 23:00</text>
<g shape-rendering="crispEdges">
<rect x="0" y="575" width="1" height="18" fill="#4a4a4a"/>
<rect x="202" y="573" width="86" height="19" fill="#ffffff"/>
<rect x="201" y="574" width="1" height="19" fill="#000000"/>
<rect x="288" y="574" width="1" height="19" fill="#000000"/>
<rect x="201" y="592" width="88" height="1" fill="#000000"/>
<rect x="109" y="577" width="1" height="14" fill="#5a5a5a"/>
<rect x="381" y="577" width="1" height="14" fill="#5a5a5a"/>
<rect x="473" y="577" width="1" height="14" fill="#5a5a5a"/>
<rect x="557" y="577" width="1" height="14" fill="#5a5a5a"/>
<rect x="661" y="577" width="1" height="14" fill="#5a5a5a"/>
<rect x="761" y="577" width="1" height="14" fill="#5a5a5a"/>
<rect x="838" y="577" width="1" height="14" fill="#5a5a5a"/>
</g>
<text x="17.2" y="588.6" font-size="12" fill="#808080" textLength="80.2" lengthAdjust="spacingAndGlyphs">EURUSD,Daily</text>
<text x="120" y="588.6" font-size="12" fill="#808080" textLength="70" lengthAdjust="spacingAndGlyphs">AUDUSD,H4</text>
<text x="211.5" y="588.6" font-size="12" fill="#000000" textLength="66.6" lengthAdjust="spacingAndGlyphs">USDCHF,H4</text>
<text x="300.3" y="588.6" font-size="12" fill="#808080" textLength="68.8" lengthAdjust="spacingAndGlyphs">USDCAD,H4</text>
<text x="391" y="588.6" font-size="12" fill="#808080" textLength="70" lengthAdjust="spacingAndGlyphs">USDCNH,H4</text>
<text x="482.5" y="588.6" font-size="12" fill="#808080" textLength="64" lengthAdjust="spacingAndGlyphs">USDJPY,H4</text>
<text x="567" y="588.6" font-size="12" fill="#808080" textLength="82" lengthAdjust="spacingAndGlyphs">XAUUSD,Daily</text>
<text x="672" y="588.6" font-size="12" fill="#808080" textLength="78" lengthAdjust="spacingAndGlyphs">GBPUSD,M15</text>
<text x="772" y="588.6" font-size="12" fill="#808080" textLength="54" lengthAdjust="spacingAndGlyphs">SP500,H1</text>
<path d="M1323 580 L1323 586.4 L1319.6 583.2 Z" fill="#a0a0a0"/>
<path d="M1339 580 L1339 586.4 L1342.4 583.2 Z" fill="#a0a0a0"/>
</svg></body></html>
